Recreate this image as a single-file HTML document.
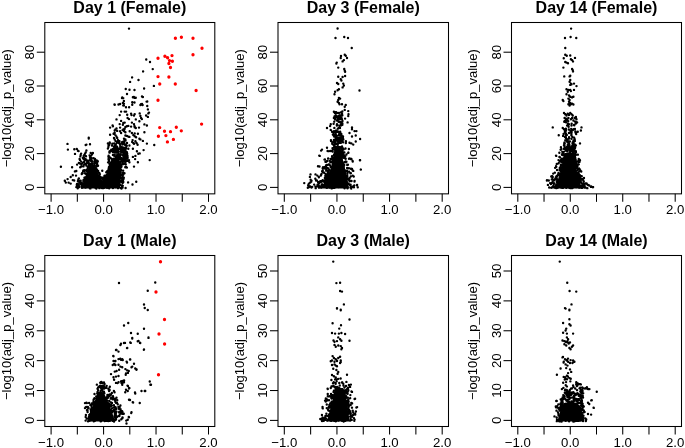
<!DOCTYPE html>
<html><head><meta charset="utf-8"><style>
html,body{margin:0;padding:0;background:#fff;}
svg{display:block;will-change:transform;font-family:"Liberation Sans",sans-serif;}
</style></head><body>
<svg width="685" height="448" viewBox="0 0 685 448">
<rect width="685" height="448" fill="#fff"/>
<polygon points="82.0,188.5 84.0,180.0 87.0,172.0 89.0,166.0 92.0,163.0 95.0,166.0 97.0,170.0 100.0,178.0 102.7,181.0 105.0,178.0 107.5,171.0 108.5,166.0 110.0,162.0 113.0,158.0 119.0,158.0 121.0,165.0 121.0,175.0 120.5,182.0 120.0,188.5" fill="#000"/>
<path d="M128.99 28.60h0.02M146.24 59.50h0.02M149.99 62.00h0.02M152.74 69.10h0.02M143.09 71.40h0.02M132.09 77.40h0.02M138.49 80.00h0.02M130.09 81.90h0.02M153.89 85.90h0.02M125.74 89.00h0.02M129.49 89.75h0.02M134.49 90.00h0.02M144.09 88.50h0.02M126.99 94.00h0.02M121.99 98.10h0.02M123.24 98.10h0.02M133.89 96.90h0.02M135.74 97.75h0.02M141.99 96.50h0.02M114.49 104.40h0.02M120.09 104.00h0.02M123.89 103.75h0.02M123.89 101.00h0.02M123.89 105.60h0.02M134.49 102.50h0.02M141.99 104.00h0.02M142.59 105.00h0.02M147.24 101.50h0.02M154.24 145.00h0.02M136.24 181.75h0.02M132.49 184.50h0.02M128.09 182.40h0.02M125.59 188.00h0.02M88.74 138.60h0.02M109.74 143.60h0.02M108.49 146.75h0.02M102.24 170.75h0.02M88.74 137.75h0.02M109.74 142.50h0.02M108.99 145.00h0.02M122.24 97.50h0.02M132.89 97.25h0.02M134.74 97.90h0.02M142.89 97.00h0.02M114.74 104.75h0.02M118.49 104.50h0.02M122.89 102.90h0.02M123.24 105.40h0.02M125.99 107.25h0.02M129.09 107.25h0.02M132.24 104.75h0.02M132.24 102.25h0.02M140.39 105.00h0.02M140.99 104.10h0.02M146.59 101.60h0.02M147.24 106.00h0.02M107.89 143.50h0.02M108.49 146.00h0.02M107.89 148.50h0.02M121.09 111.60h0.02M124.69 111.60h0.02M126.09 111.60h0.02M119.69 115.10h0.02M127.19 114.80h0.02M131.09 113.70h0.02M131.49 115.10h0.02M134.69 114.10h0.02M133.99 115.50h0.02M139.69 113.40h0.02M140.39 115.90h0.02M141.09 118.00h0.02M141.89 119.10h0.02M147.89 109.40h0.02M148.99 112.60h0.02M148.29 113.40h0.02M146.09 115.50h0.02M147.89 116.90h0.02M116.49 119.40h0.02M127.59 118.00h0.02M128.99 119.10h0.02M135.79 119.40h0.02M139.39 121.20h0.02M121.09 120.90h0.02M119.69 124.10h0.02M123.29 123.00h0.02M124.69 122.60h0.02M122.89 124.80h0.02M112.59 125.50h0.02M112.89 126.20h0.02M110.09 127.60h0.02M131.89 122.60h0.02M133.99 124.10h0.02M134.39 125.90h0.02M134.69 127.30h0.02M135.79 128.00h0.02M138.99 127.60h0.02M144.39 124.40h0.02M146.89 125.50h0.02M131.09 126.60h0.02M128.29 125.90h0.02M126.89 126.20h0.02M125.39 126.90h0.02M124.69 128.70h0.02M123.29 129.40h0.02M123.99 130.90h0.02M120.09 127.60h0.02M116.49 128.40h0.02M115.39 129.40h0.02M114.69 130.50h0.02M117.19 130.90h0.02M120.09 131.20h0.02M121.09 133.00h0.02M122.59 130.10h0.02M124.69 131.60h0.02M125.39 132.30h0.02M129.69 131.20h0.02M131.89 133.00h0.02M134.69 133.40h0.02M137.89 133.70h0.02M144.39 132.30h0.02M110.09 134.80h0.02M113.59 133.70h0.02M114.69 133.00h0.02M115.39 135.10h0.02M116.49 136.60h0.02M117.19 138.00h0.02M125.39 135.50h0.02M126.89 135.90h0.02M128.29 136.60h0.02M129.39 136.90h0.02M133.29 135.10h0.02M134.69 136.20h0.02M136.09 137.30h0.02M113.99 138.00h0.02M114.69 139.40h0.02M123.99 138.70h0.02M125.39 139.40h0.02M132.59 140.10h0.02M132.19 141.90h0.02M133.29 143.00h0.02M133.99 143.70h0.02M135.39 141.20h0.02M136.49 143.00h0.02M137.59 144.80h0.02M139.39 138.70h0.02M140.39 139.40h0.02M142.89 140.90h0.02M146.89 143.60h0.02M129.39 145.50h0.02M128.29 148.70h0.02M132.89 148.70h0.02M136.89 151.20h0.02M143.59 150.10h0.02M126.89 152.30h0.02M127.19 153.70h0.02M138.29 153.70h0.02M139.69 153.40h0.02M132.89 156.90h0.02M135.39 155.90h0.02M135.09 159.10h0.02M137.89 162.30h0.02M149.69 160.10h0.02M133.99 166.60h0.02M128.99 160.10h0.02M129.39 162.30h0.02M126.89 167.60h0.02M67.49 143.90h0.02M67.89 149.60h0.02M85.69 145.00h0.02M86.39 144.60h0.02M89.99 144.30h0.02M74.29 149.30h0.02M76.79 148.90h0.02M77.89 150.70h0.02M78.59 151.10h0.02M74.99 153.90h0.02M86.39 150.40h0.02M85.69 152.50h0.02M84.99 153.60h0.02M84.29 155.00h0.02M83.59 156.10h0.02M81.09 153.60h0.02M80.69 155.00h0.02M80.39 156.40h0.02M90.69 152.90h0.02M92.89 152.90h0.02M92.09 154.30h0.02M79.59 158.90h0.02M79.99 160.00h0.02M82.89 157.90h0.02M83.59 158.90h0.02M84.59 160.00h0.02M85.69 159.30h0.02M86.79 160.70h0.02M87.49 162.10h0.02M89.99 157.10h0.02M91.39 157.90h0.02M93.59 158.20h0.02M94.99 158.90h0.02M96.79 160.70h0.02M78.89 162.90h0.02M79.99 163.60h0.02M81.39 164.30h0.02M77.09 164.60h0.02M60.89 166.70h0.02M72.09 167.20h0.02M80.19 167.20h0.02M81.19 166.50h0.02M74.89 171.40h0.02M76.29 171.00h0.02M72.79 175.20h0.02M70.69 177.00h0.02M75.99 175.60h0.02M67.59 179.10h0.02M64.79 180.80h0.02M65.79 182.60h0.02M68.59 182.60h0.02M70.69 183.60h0.02M72.79 180.10h0.02M74.19 180.50h0.02M76.99 184.00h0.02M78.39 184.30h0.02M80.49 183.60h0.02M76.29 187.10h0.02M116.07 176.28h0.02M114.05 164.99h0.02M117.59 169.12h0.02M78.48 185.72h0.02M125.24 160.92h0.02M92.08 178.87h0.02M108.56 186.98h0.02M86.95 186.68h0.02M104.87 184.40h0.02M118.53 153.66h0.02M109.71 152.15h0.02M116.21 170.50h0.02M86.01 181.91h0.02M123.51 156.84h0.02M99.30 173.47h0.02M122.91 152.25h0.02M104.80 187.19h0.02M107.66 176.77h0.02M116.29 168.05h0.02M91.06 171.50h0.02M120.41 162.06h0.02M101.14 178.60h0.02M118.31 183.95h0.02M109.87 157.48h0.02M120.05 184.74h0.02M113.16 178.83h0.02M111.14 182.75h0.02M84.55 178.29h0.02M112.71 152.02h0.02M108.29 174.01h0.02M114.92 170.58h0.02M86.87 163.18h0.02M124.68 163.63h0.02M113.08 172.67h0.02M110.30 166.78h0.02M104.33 176.08h0.02M84.37 180.15h0.02M121.38 148.95h0.02M109.34 152.10h0.02M79.46 186.25h0.02M96.90 169.43h0.02M97.45 185.61h0.02M107.08 187.70h0.02M112.94 154.90h0.02M91.82 185.87h0.02M109.41 172.99h0.02M120.36 181.07h0.02M94.33 174.96h0.02M99.10 177.22h0.02M85.57 187.53h0.02M94.32 180.23h0.02M83.46 183.97h0.02M112.57 168.05h0.02M84.36 181.96h0.02M108.51 173.27h0.02M83.07 171.26h0.02M91.63 182.82h0.02M96.45 166.02h0.02M112.82 182.72h0.02M126.23 152.83h0.02M115.46 171.24h0.02M84.84 186.42h0.02M114.30 162.75h0.02M122.19 151.32h0.02M119.34 181.96h0.02M82.02 184.99h0.02M116.76 184.96h0.02M90.63 177.64h0.02M116.53 161.45h0.02M82.49 173.18h0.02M78.46 184.48h0.02M120.32 171.41h0.02M87.57 183.52h0.02M91.92 183.59h0.02M112.19 185.76h0.02M93.84 178.79h0.02M108.18 185.81h0.02M113.06 150.40h0.02M89.91 174.66h0.02M99.06 178.40h0.02M76.82 184.71h0.02M84.43 177.82h0.02M119.90 148.75h0.02M104.19 187.46h0.02M91.27 184.43h0.02M125.34 157.78h0.02M120.53 154.31h0.02M110.41 150.85h0.02M108.04 162.37h0.02M116.23 168.50h0.02M119.60 148.62h0.02M101.93 188.00h0.02M117.10 161.75h0.02M124.34 157.72h0.02M113.48 158.98h0.02M96.67 160.47h0.02M123.76 177.62h0.02M93.66 179.11h0.02M119.14 181.64h0.02M87.39 186.33h0.02M93.41 175.69h0.02M111.84 183.97h0.02M112.18 168.13h0.02M120.78 177.96h0.02M95.46 187.63h0.02M103.83 178.14h0.02M112.18 151.09h0.02M117.36 173.06h0.02M126.19 166.88h0.02M90.44 178.94h0.02M104.74 183.21h0.02M123.30 154.57h0.02M109.97 173.20h0.02M112.94 188.01h0.02M126.37 154.37h0.02M105.25 181.84h0.02M117.09 178.03h0.02M111.43 165.67h0.02M98.01 165.70h0.02M113.32 158.93h0.02M86.28 165.59h0.02M109.07 168.94h0.02M121.48 166.62h0.02M86.66 173.65h0.02M109.24 184.49h0.02M114.09 186.73h0.02M83.43 181.67h0.02M115.69 156.97h0.02M92.07 168.76h0.02M96.19 163.15h0.02M112.97 175.10h0.02M116.43 148.34h0.02M110.83 158.09h0.02M108.01 185.80h0.02M115.13 162.22h0.02M125.80 161.53h0.02M90.47 164.52h0.02M91.11 169.53h0.02M109.08 178.49h0.02M112.88 174.92h0.02M97.40 165.19h0.02M115.55 161.91h0.02M103.43 180.86h0.02M120.89 178.23h0.02M117.29 184.47h0.02M122.58 161.45h0.02M118.26 182.25h0.02M114.80 170.83h0.02M102.93 185.64h0.02M90.91 173.76h0.02M124.56 158.02h0.02M84.95 173.27h0.02M123.14 159.44h0.02M117.11 172.85h0.02M90.72 163.93h0.02M114.19 176.46h0.02M90.38 188.38h0.02M98.13 171.07h0.02M121.17 152.19h0.02M113.03 169.85h0.02M99.63 173.51h0.02M91.87 163.43h0.02M93.41 173.73h0.02M78.35 179.38h0.02M123.24 149.89h0.02M114.60 170.70h0.02M116.36 151.07h0.02M122.40 180.05h0.02M113.63 182.53h0.02M91.16 172.38h0.02M115.53 149.53h0.02M109.44 186.83h0.02M115.54 177.85h0.02M84.39 184.62h0.02M112.91 171.24h0.02M108.16 177.91h0.02M121.56 151.08h0.02M122.56 187.51h0.02M106.92 177.34h0.02M121.20 160.08h0.02M114.99 177.68h0.02M120.96 169.84h0.02M100.17 182.38h0.02M110.59 176.71h0.02M116.12 181.25h0.02M109.69 177.41h0.02M117.58 148.98h0.02M84.75 170.70h0.02M95.09 183.88h0.02M91.61 167.40h0.02M85.81 181.98h0.02M94.75 176.75h0.02M114.24 165.67h0.02M81.97 187.03h0.02M77.89 181.27h0.02M106.62 175.06h0.02M111.24 149.74h0.02M127.46 155.73h0.02M111.62 168.60h0.02M107.42 183.91h0.02M125.15 157.75h0.02M94.33 183.62h0.02M110.48 166.99h0.02M123.14 170.64h0.02M90.45 174.49h0.02M99.10 173.06h0.02M123.30 181.97h0.02M119.05 176.40h0.02M99.32 182.21h0.02M118.48 181.18h0.02M80.90 184.12h0.02M118.81 172.17h0.02M98.72 175.52h0.02M91.41 175.60h0.02M126.01 148.58h0.02M96.29 180.45h0.02M118.48 170.72h0.02M89.64 163.63h0.02M94.95 168.14h0.02M127.63 157.29h0.02M92.78 183.96h0.02M121.09 151.18h0.02M88.30 185.02h0.02M122.76 175.48h0.02M125.70 158.73h0.02M113.98 152.27h0.02M95.81 168.83h0.02M108.61 155.60h0.02M94.82 180.36h0.02M88.47 160.66h0.02M121.84 160.47h0.02M91.66 160.26h0.02M97.04 164.22h0.02M120.98 181.65h0.02M114.67 167.14h0.02M126.08 152.39h0.02M78.66 185.48h0.02M110.47 177.77h0.02M102.70 179.70h0.02M110.49 181.53h0.02M116.26 152.31h0.02M99.11 174.87h0.02M113.16 165.42h0.02M106.83 183.73h0.02M107.12 171.25h0.02M118.19 159.13h0.02M112.84 174.67h0.02M115.69 150.71h0.02M90.19 170.34h0.02M110.61 173.63h0.02M93.00 179.96h0.02M114.71 154.65h0.02M117.22 154.69h0.02M86.69 178.93h0.02M112.12 159.64h0.02M88.77 165.54h0.02M116.94 155.87h0.02M121.80 182.12h0.02M78.84 178.47h0.02M116.50 171.70h0.02M87.77 166.92h0.02M107.13 181.05h0.02M103.28 179.08h0.02M113.22 178.63h0.02M88.07 172.50h0.02M123.42 174.34h0.02M96.08 177.30h0.02M121.84 164.58h0.02M87.76 161.44h0.02M113.84 155.49h0.02M86.97 186.91h0.02M117.84 174.43h0.02M121.75 185.53h0.02M85.42 177.52h0.02M90.01 174.90h0.02M78.74 178.82h0.02M86.75 174.09h0.02M99.79 174.38h0.02M116.07 152.56h0.02M93.19 176.43h0.02M90.74 159.36h0.02M109.54 168.26h0.02M83.40 170.39h0.02M107.13 186.07h0.02M97.02 177.58h0.02M88.31 186.63h0.02M89.35 173.62h0.02M115.97 167.83h0.02M90.72 170.60h0.02M127.58 157.98h0.02M114.59 169.38h0.02M127.33 158.38h0.02M120.07 148.26h0.02M124.85 149.06h0.02M90.54 183.59h0.02M86.95 171.16h0.02M115.76 187.11h0.02M91.68 170.89h0.02M114.07 167.41h0.02M92.69 180.83h0.02M92.08 178.69h0.02M115.85 179.72h0.02M88.79 167.38h0.02M122.31 158.76h0.02M108.90 167.17h0.02M113.43 185.61h0.02M121.89 175.55h0.02M122.79 185.85h0.02M96.00 162.10h0.02M106.25 172.23h0.02M114.01 177.18h0.02M114.07 150.58h0.02M117.20 156.34h0.02M92.41 185.91h0.02M121.99 187.59h0.02M94.16 165.38h0.02M121.47 188.47h0.02M111.31 178.03h0.02M112.00 180.40h0.02M105.75 186.27h0.02M85.82 173.86h0.02M123.03 179.97h0.02M83.92 183.83h0.02M93.97 177.16h0.02M78.34 180.63h0.02M115.13 163.93h0.02M95.72 167.96h0.02M81.91 187.70h0.02M112.56 186.80h0.02M99.44 188.14h0.02M117.11 175.10h0.02M111.32 183.13h0.02M92.21 161.39h0.02M119.17 155.47h0.02M78.17 180.51h0.02M115.66 149.09h0.02M86.76 169.71h0.02M114.12 169.47h0.02M114.95 178.96h0.02M84.53 170.11h0.02M108.59 158.34h0.02M125.25 167.20h0.02M115.37 173.54h0.02M122.94 159.88h0.02M97.04 185.17h0.02M89.01 164.52h0.02M120.87 188.00h0.02M113.32 167.69h0.02M122.92 155.26h0.02M109.09 159.95h0.02M124.23 149.61h0.02M125.34 154.41h0.02M88.60 162.35h0.02M109.13 179.65h0.02M120.36 164.87h0.02M99.91 176.79h0.02M109.08 167.80h0.02M96.94 171.64h0.02M90.48 159.48h0.02M79.28 186.99h0.02M118.50 152.38h0.02M87.42 178.10h0.02M105.26 177.47h0.02M112.47 174.86h0.02M122.61 183.09h0.02M109.53 152.65h0.02M98.67 186.08h0.02M103.72 183.00h0.02M122.27 179.64h0.02M94.45 177.57h0.02M112.07 174.16h0.02M109.66 151.32h0.02M110.20 184.08h0.02M120.73 169.50h0.02M94.17 183.91h0.02M97.62 178.18h0.02M87.23 162.40h0.02M93.52 179.43h0.02M92.38 170.50h0.02M90.11 186.22h0.02M86.52 181.77h0.02M96.39 177.25h0.02M124.95 151.07h0.02M86.38 178.09h0.02M90.83 169.35h0.02M91.38 177.03h0.02M107.81 178.45h0.02M96.90 160.79h0.02M120.33 174.02h0.02M88.19 170.50h0.02M118.48 174.98h0.02M108.89 170.58h0.02M98.49 187.08h0.02M120.07 163.47h0.02M118.76 151.42h0.02M92.98 184.24h0.02M123.98 155.29h0.02M113.41 166.97h0.02M109.75 175.88h0.02M127.39 160.92h0.02M98.37 179.60h0.02M113.64 184.22h0.02M123.59 163.98h0.02M114.85 176.71h0.02M77.72 188.35h0.02M114.25 182.96h0.02M115.93 168.69h0.02M122.53 163.52h0.02M110.96 182.96h0.02M106.67 186.41h0.02M112.15 180.08h0.02M92.87 184.44h0.02M108.53 159.62h0.02M117.01 161.10h0.02M90.22 183.42h0.02M95.29 183.86h0.02M113.63 174.64h0.02M114.79 167.15h0.02M115.65 162.77h0.02M127.08 155.04h0.02M79.25 181.89h0.02M99.62 178.64h0.02M119.30 159.10h0.02M117.33 162.99h0.02M103.18 182.53h0.02M80.37 183.05h0.02M93.42 183.25h0.02M86.42 184.19h0.02M118.58 149.17h0.02M109.59 170.26h0.02M103.60 177.79h0.02M125.19 159.55h0.02M109.48 163.69h0.02M112.95 175.48h0.02M119.03 176.31h0.02M101.65 177.37h0.02M110.08 178.22h0.02M106.17 186.62h0.02M110.75 186.52h0.02M121.11 150.50h0.02M123.76 152.61h0.02M109.33 184.19h0.02M90.10 173.91h0.02M104.96 181.28h0.02M117.27 155.81h0.02M83.39 180.13h0.02M81.96 183.83h0.02M117.05 151.34h0.02M93.00 170.96h0.02M86.07 178.33h0.02M121.29 157.98h0.02M109.17 188.29h0.02M94.39 166.02h0.02M116.75 151.87h0.02M120.17 163.40h0.02M115.70 174.70h0.02M116.84 159.39h0.02M120.71 177.58h0.02M99.44 179.22h0.02M95.09 183.27h0.02M118.57 173.49h0.02M109.95 168.46h0.02M77.71 184.29h0.02M124.81 160.18h0.02M119.76 175.96h0.02M107.23 177.13h0.02M120.75 172.07h0.02M125.77 164.21h0.02M106.08 182.25h0.02M89.83 188.23h0.02M81.74 174.07h0.02M103.00 179.98h0.02M122.57 180.78h0.02M115.46 166.84h0.02M84.01 187.16h0.02M79.82 181.04h0.02M108.99 161.57h0.02M123.06 173.14h0.02M76.89 185.17h0.02M108.23 181.26h0.02M124.03 152.65h0.02M97.59 165.97h0.02M108.10 179.53h0.02M91.06 182.93h0.02M110.48 177.81h0.02M125.45 156.56h0.02M119.94 172.32h0.02M94.40 162.19h0.02M121.31 149.01h0.02M124.19 161.39h0.02M95.56 179.44h0.02M110.46 179.22h0.02M119.30 157.28h0.02M114.10 180.76h0.02M92.63 169.66h0.02M89.38 172.40h0.02M106.72 175.24h0.02M118.00 188.13h0.02M113.60 184.19h0.02M125.88 155.35h0.02M90.53 184.23h0.02M90.03 165.25h0.02M94.35 164.70h0.02M119.49 175.77h0.02M113.65 183.91h0.02M104.60 175.72h0.02M121.06 169.98h0.02M102.47 183.68h0.02M96.38 181.85h0.02M87.88 166.93h0.02M96.69 170.32h0.02M115.59 182.20h0.02M107.98 176.84h0.02M117.54 172.99h0.02M124.45 173.16h0.02M125.65 167.05h0.02M88.66 182.90h0.02M97.17 162.68h0.02M101.29 177.58h0.02M99.08 181.49h0.02M124.71 160.90h0.02M90.03 165.19h0.02M90.07 186.71h0.02M81.50 182.71h0.02M111.62 181.01h0.02M88.45 179.56h0.02M116.05 156.57h0.02M112.36 174.26h0.02M124.98 157.70h0.02M77.40 186.41h0.02M106.58 184.50h0.02M106.40 177.20h0.02M101.60 184.82h0.02M116.90 169.85h0.02M87.65 185.78h0.02M90.78 160.79h0.02M116.45 172.30h0.02M109.87 185.25h0.02M121.28 167.00h0.02M115.12 186.04h0.02M113.05 172.80h0.02M92.76 186.13h0.02M121.46 174.24h0.02M93.67 175.63h0.02M82.24 173.03h0.02M119.87 156.52h0.02M123.63 178.71h0.02M127.25 160.81h0.02M99.03 181.95h0.02M93.60 171.92h0.02M115.78 175.03h0.02M95.81 168.54h0.02M120.83 154.78h0.02M123.09 154.97h0.02M115.93 184.68h0.02M93.00 185.63h0.02M82.92 185.12h0.02M117.37 158.48h0.02M99.50 186.01h0.02M123.57 173.51h0.02M96.30 188.43h0.02M104.24 187.66h0.02M105.32 186.41h0.02M114.96 186.85h0.02M119.18 163.12h0.02M117.33 183.95h0.02M86.25 183.26h0.02M90.01 166.75h0.02M115.01 173.02h0.02M80.62 180.67h0.02M86.65 184.01h0.02M123.02 172.95h0.02M113.30 165.01h0.02M109.23 185.09h0.02M97.02 177.15h0.02M122.93 177.71h0.02M115.30 156.87h0.02M87.86 167.71h0.02M115.55 160.34h0.02M115.59 183.21h0.02M105.43 178.87h0.02M125.45 162.02h0.02M123.77 155.60h0.02M113.74 177.88h0.02M95.63 168.43h0.02M110.76 164.82h0.02M111.08 186.90h0.02M109.73 169.81h0.02M92.64 184.50h0.02M114.01 151.73h0.02M119.70 177.12h0.02M113.44 183.44h0.02M91.59 173.53h0.02M126.08 152.90h0.02M95.46 161.97h0.02M108.97 160.90h0.02M94.19 163.82h0.02M95.81 167.98h0.02M108.15 170.39h0.02M108.41 156.74h0.02M108.69 168.53h0.02M113.78 186.40h0.02M111.59 175.87h0.02M102.05 187.48h0.02M94.75 160.60h0.02M118.00 187.27h0.02M92.63 185.12h0.02M103.58 188.12h0.02M89.63 167.56h0.02M108.49 183.56h0.02M117.07 146.69h0.02M123.92 147.67h0.02M124.97 144.77h0.02M114.18 143.50h0.02M114.00 146.56h0.02M115.25 149.27h0.02M122.81 144.35h0.02M126.77 145.74h0.02M118.95 143.11h0.02M116.98 142.72h0.02M123.50 141.37h0.02M121.31 143.47h0.02M118.09 140.25h0.02M125.04 140.55h0.02M119.47 141.22h0.02M125.98 147.46h0.02M117.39 141.99h0.02M120.25 146.47h0.02M126.45 145.64h0.02M121.78 148.09h0.02M113.88 148.66h0.02M122.62 147.49h0.02M116.17 149.97h0.02M112.95 148.95h0.02M127.00 143.05h0.02M124.58 140.44h0.02M125.50 150.46h0.02M115.58 141.00h0.02M123.30 150.23h0.02M122.00 142.26h0.02M123.40 150.94h0.02M113.91 149.03h0.02M115.82 146.37h0.02M115.75 144.45h0.02M117.46 149.47h0.02M121.66 146.76h0.02M115.42 145.30h0.02M124.40 150.81h0.02M117.77 148.32h0.02M123.32 143.92h0.02M111.94 145.54h0.02M125.53 140.62h0.02M119.98 144.38h0.02M121.55 147.49h0.02M115.53 146.95h0.02M115.78 147.05h0.02M112.34 143.58h0.02M124.18 142.60h0.02M117.91 150.20h0.02M124.43 143.47h0.02M121.25 148.86h0.02M125.82 144.99h0.02M97.79 161.16h0.02M90.11 158.70h0.02M89.59 155.33h0.02M85.15 163.81h0.02M86.01 156.18h0.02M82.87 162.87h0.02M91.11 155.39h0.02M83.39 166.40h0.02M84.22 161.75h0.02M83.94 155.86h0.02M81.24 161.58h0.02M84.72 155.28h0.02M83.68 165.14h0.02M84.05 157.98h0.02M86.67 160.09h0.02" stroke="#000" stroke-width="2.4" stroke-linecap="round" fill="none"/>
<path d="M175.39 38.25h0.02M181.39 37.25h0.02M192.99 38.25h0.02M201.99 48.25h0.02M192.99 54.75h0.02M157.99 58.25h0.02M164.89 56.25h0.02M167.59 57.75h0.02M171.99 55.60h0.02M169.49 60.60h0.02M172.39 61.25h0.02M168.89 63.50h0.02M170.49 67.50h0.02M157.99 76.60h0.02M168.89 77.00h0.02M159.74 84.00h0.02M175.29 84.00h0.02M196.09 90.50h0.02M157.99 100.25h0.02M201.59 124.10h0.02M159.69 127.60h0.02M176.29 127.25h0.02M164.49 131.25h0.02M170.49 131.70h0.02M181.29 130.80h0.02M158.39 136.25h0.02M165.89 135.60h0.02M173.39 139.40h0.02M167.39 141.90h0.02" stroke="#f00" stroke-width="3.3" stroke-linecap="round" fill="none"/>
<rect x="44.8" y="22.5" width="170.0" height="171.35" fill="none" stroke="#000" stroke-width="1.05"/>
<line x1="51.10" y1="193.85" x2="51.10" y2="201.85" stroke="#000" stroke-width="1.05"/>
<line x1="77.33" y1="193.85" x2="77.33" y2="201.85" stroke="#000" stroke-width="1.05"/>
<line x1="103.57" y1="193.85" x2="103.57" y2="201.85" stroke="#000" stroke-width="1.05"/>
<line x1="129.80" y1="193.85" x2="129.80" y2="201.85" stroke="#000" stroke-width="1.05"/>
<line x1="156.03" y1="193.85" x2="156.03" y2="201.85" stroke="#000" stroke-width="1.05"/>
<line x1="182.27" y1="193.85" x2="182.27" y2="201.85" stroke="#000" stroke-width="1.05"/>
<line x1="208.50" y1="193.85" x2="208.50" y2="201.85" stroke="#000" stroke-width="1.05"/>
<text x="51.10" y="213.85" text-anchor="middle" font-size="13.2">−1.0</text>
<text x="103.57" y="213.85" text-anchor="middle" font-size="13.2">0.0</text>
<text x="156.03" y="213.85" text-anchor="middle" font-size="13.2">1.0</text>
<text x="208.50" y="213.85" text-anchor="middle" font-size="13.2">2.0</text>
<line x1="36.80" y1="187.40" x2="44.8" y2="187.40" stroke="#000" stroke-width="1.05"/>
<text transform="translate(34.20,187.40) rotate(-90)" text-anchor="middle" font-size="13.2">0</text>
<line x1="36.80" y1="153.60" x2="44.8" y2="153.60" stroke="#000" stroke-width="1.05"/>
<text transform="translate(34.20,153.60) rotate(-90)" text-anchor="middle" font-size="13.2">20</text>
<line x1="36.80" y1="119.80" x2="44.8" y2="119.80" stroke="#000" stroke-width="1.05"/>
<text transform="translate(34.20,119.80) rotate(-90)" text-anchor="middle" font-size="13.2">40</text>
<line x1="36.80" y1="86.00" x2="44.8" y2="86.00" stroke="#000" stroke-width="1.05"/>
<text transform="translate(34.20,86.00) rotate(-90)" text-anchor="middle" font-size="13.2">60</text>
<line x1="36.80" y1="52.20" x2="44.8" y2="52.20" stroke="#000" stroke-width="1.05"/>
<text transform="translate(34.20,52.20) rotate(-90)" text-anchor="middle" font-size="13.2">80</text>
<text transform="translate(10.50,108.17) rotate(-90)" text-anchor="middle" font-size="13">−log10(adj_p_value)</text>
<text x="129.80" y="13.0" text-anchor="middle" font-size="16.0" font-weight="bold">Day 1 (Female)</text>
<polygon points="320.0,188.5 324.0,183.0 328.0,176.0 330.5,169.0 332.5,160.0 334.0,152.0 335.0,146.0 340.0,146.0 341.5,152.0 343.0,160.0 345.0,169.0 346.5,176.0 348.0,183.0 349.0,188.5" fill="#000"/>
<path d="M337.59 28.50h0.02M335.49 38.00h0.02M344.24 37.00h0.02M347.99 38.00h0.02M351.74 48.00h0.02M344.74 54.75h0.02M345.74 55.75h0.02M340.99 56.00h0.02M340.74 58.00h0.02M346.99 58.00h0.02M343.89 60.10h0.02M342.59 61.40h0.02M336.74 62.60h0.02M336.39 63.50h0.02M338.24 67.60h0.02M344.24 68.90h0.02M344.74 70.75h0.02M345.09 71.75h0.02M338.24 76.75h0.02M342.59 77.00h0.02M345.09 76.00h0.02M340.74 79.25h0.02M341.39 80.50h0.02M336.99 83.00h0.02M338.24 84.00h0.02M343.24 83.60h0.02M343.89 85.50h0.02M342.59 87.40h0.02M338.89 89.25h0.02M337.59 90.25h0.02M335.09 91.75h0.02M359.49 90.50h0.02M334.49 94.25h0.02M338.89 98.00h0.02M340.09 98.60h0.02M338.24 99.90h0.02M337.59 101.75h0.02M338.89 103.00h0.02M339.49 104.25h0.02M341.99 104.25h0.02M345.74 104.90h0.02M344.74 106.75h0.02M344.74 109.90h0.02M333.89 111.75h0.02M335.09 112.40h0.02M336.99 113.00h0.02M338.89 113.00h0.02M340.74 112.40h0.02M341.99 113.60h0.02M348.24 111.10h0.02M348.49 114.25h0.02M348.24 116.10h0.02M335.74 115.50h0.02M336.99 116.75h0.02M338.24 116.10h0.02M340.09 115.50h0.02M341.39 117.40h0.02M333.89 118.00h0.02M335.09 119.25h0.02M336.99 120.50h0.02M338.89 119.25h0.02M341.99 119.25h0.02M345.09 118.60h0.02M347.59 122.40h0.02M330.74 124.25h0.02M330.09 126.10h0.02M326.99 128.00h0.02M351.99 127.40h0.02M351.99 129.25h0.02M354.49 131.10h0.02M356.39 131.10h0.02M349.49 133.00h0.02M330.74 129.90h0.02M331.99 131.75h0.02M321.99 149.60h0.02M319.74 155.90h0.02M324.49 159.60h0.02M319.49 166.50h0.02M326.99 147.75h0.02M327.59 150.90h0.02M360.09 139.00h0.02M355.74 141.50h0.02M351.99 136.50h0.02M355.74 135.50h0.02M349.49 142.75h0.02M351.39 143.40h0.02M353.24 144.60h0.02M348.89 149.00h0.02M348.24 152.75h0.02M349.49 158.40h0.02M351.39 159.00h0.02M352.59 160.90h0.02M360.09 160.25h0.02M360.74 169.60h0.02M351.99 169.00h0.02M353.24 170.90h0.02M354.49 181.50h0.02M356.99 185.25h0.02M304.24 183.10h0.02M310.49 174.40h0.02M309.89 176.90h0.02M317.99 166.25h0.02M319.24 155.60h0.02M324.89 159.40h0.02M321.09 150.60h0.02M315.49 174.40h0.02M317.39 175.60h0.02M321.09 175.00h0.02M311.49 187.50h0.02M348.39 152.75h0.02M348.99 158.75h0.02M350.89 159.00h0.02M352.74 161.50h0.02M359.89 160.25h0.02M350.89 168.75h0.02M352.49 170.25h0.02M360.89 169.60h0.02M352.74 175.60h0.02M353.74 176.50h0.02M354.59 181.00h0.02M357.09 185.00h0.02M357.74 187.25h0.02M339.09 117.04h0.02M343.13 139.64h0.02M337.89 131.57h0.02M335.24 117.87h0.02M336.02 132.47h0.02M335.22 141.10h0.02M333.92 134.87h0.02M336.84 125.62h0.02M336.41 130.76h0.02M337.23 117.46h0.02M337.51 120.43h0.02M334.15 136.53h0.02M340.13 131.61h0.02M342.26 123.23h0.02M336.97 124.11h0.02M337.24 131.74h0.02M338.61 121.71h0.02M334.60 112.07h0.02M334.89 113.04h0.02M334.57 132.23h0.02M340.64 122.25h0.02M339.84 125.73h0.02M338.22 138.15h0.02M336.26 137.97h0.02M340.25 132.19h0.02M342.92 138.15h0.02M341.80 114.69h0.02M340.40 135.01h0.02M341.49 135.56h0.02M334.46 116.54h0.02M341.31 133.88h0.02M342.36 124.84h0.02M342.33 115.32h0.02M343.04 138.42h0.02M336.53 113.09h0.02M338.75 132.37h0.02M336.67 112.78h0.02M335.92 136.56h0.02M333.94 140.06h0.02M335.62 117.34h0.02M334.17 141.41h0.02M342.45 120.89h0.02M333.99 131.25h0.02M342.31 111.38h0.02M339.64 137.56h0.02M337.81 128.65h0.02M341.43 118.39h0.02M335.86 131.47h0.02M338.79 127.60h0.02M336.50 140.05h0.02M336.02 132.05h0.02M342.38 123.42h0.02M334.25 121.62h0.02M336.87 124.87h0.02M339.97 131.98h0.02M340.21 122.29h0.02M339.95 128.04h0.02M334.33 127.92h0.02M336.33 131.95h0.02M340.71 118.46h0.02M337.56 125.10h0.02M336.11 112.26h0.02M333.51 141.78h0.02M340.76 124.60h0.02M339.99 119.34h0.02M340.45 140.48h0.02M341.11 125.42h0.02M343.32 139.59h0.02M333.60 123.77h0.02M337.74 119.50h0.02M339.46 115.45h0.02M340.84 137.59h0.02M333.64 132.46h0.02M335.78 130.79h0.02M328.33 151.15h0.02M326.25 165.18h0.02M314.15 184.60h0.02M322.64 172.27h0.02M324.19 168.38h0.02M332.86 134.46h0.02M307.82 187.72h0.02M312.21 186.85h0.02M326.20 170.66h0.02M327.10 161.17h0.02M316.81 180.53h0.02M323.07 167.21h0.02M308.15 185.32h0.02M326.60 165.01h0.02M325.83 161.89h0.02M331.04 141.00h0.02M311.50 180.73h0.02M308.81 183.78h0.02M332.21 143.85h0.02M322.74 170.82h0.02M310.24 182.56h0.02M327.12 167.91h0.02M311.19 181.67h0.02M318.86 177.25h0.02M333.50 135.29h0.02M328.15 158.46h0.02M310.63 179.65h0.02M310.17 186.36h0.02M327.88 164.84h0.02M330.96 140.14h0.02M321.35 174.20h0.02M315.30 178.63h0.02M309.20 187.05h0.02M325.42 161.87h0.02M320.68 175.64h0.02M318.12 182.26h0.02M330.28 150.98h0.02M324.96 166.83h0.02M309.58 186.57h0.02M324.19 172.82h0.02M327.33 161.03h0.02M326.10 166.10h0.02M322.65 168.19h0.02M325.83 167.00h0.02M316.07 180.50h0.02M325.83 168.73h0.02M332.90 142.19h0.02M322.13 171.15h0.02M332.21 142.08h0.02M354.26 185.36h0.02M342.12 139.77h0.02M345.89 141.28h0.02M350.37 173.23h0.02M345.49 148.46h0.02M352.68 186.81h0.02M348.88 168.22h0.02M347.93 164.64h0.02M349.63 178.08h0.02M350.85 173.14h0.02M343.07 142.24h0.02M353.94 187.29h0.02M343.00 136.41h0.02M351.49 181.07h0.02M353.74 186.53h0.02M346.44 154.43h0.02M347.22 164.92h0.02M345.83 143.07h0.02M346.41 161.70h0.02M342.22 139.26h0.02M351.72 186.64h0.02M350.72 176.39h0.02M349.38 179.19h0.02M349.13 171.67h0.02M347.10 167.96h0.02M337.19 140.29h0.02M320.03 186.97h0.02M333.06 187.89h0.02M345.82 176.67h0.02M332.88 167.18h0.02M327.99 181.88h0.02M325.33 179.65h0.02M338.47 185.01h0.02M332.50 148.21h0.02M336.87 185.92h0.02M334.20 144.52h0.02M327.98 177.49h0.02M337.80 152.25h0.02M350.47 187.51h0.02M337.17 152.53h0.02M337.91 162.06h0.02M344.23 183.14h0.02M333.03 160.03h0.02M344.14 179.86h0.02M339.00 142.73h0.02M341.45 156.53h0.02M333.79 186.72h0.02M337.28 158.57h0.02M345.65 158.81h0.02M340.57 158.33h0.02M342.13 153.65h0.02M344.69 177.64h0.02M343.36 180.79h0.02M345.17 175.51h0.02M329.77 175.07h0.02M341.29 174.23h0.02M346.23 177.03h0.02M341.29 175.15h0.02M338.61 187.04h0.02M338.05 178.47h0.02M351.23 188.45h0.02M340.05 167.25h0.02M335.25 170.98h0.02M338.94 178.69h0.02M331.91 184.79h0.02M331.13 183.93h0.02M329.09 173.65h0.02M327.26 178.81h0.02M328.43 176.40h0.02M336.32 153.14h0.02M343.86 168.14h0.02M335.05 170.11h0.02M347.26 171.78h0.02M331.66 188.39h0.02M328.95 164.47h0.02M347.02 170.78h0.02M340.17 147.95h0.02M323.12 181.54h0.02M345.58 179.36h0.02M344.95 182.84h0.02M341.09 137.57h0.02M344.33 152.36h0.02M340.85 161.40h0.02M334.59 161.92h0.02M350.57 184.58h0.02M340.46 141.90h0.02M330.70 180.69h0.02M332.92 176.50h0.02M334.15 173.42h0.02M333.72 173.87h0.02M344.23 176.84h0.02M344.07 170.81h0.02M344.14 165.33h0.02M339.20 171.73h0.02M346.97 182.17h0.02M318.25 184.88h0.02M340.49 176.00h0.02M335.90 171.44h0.02M338.22 167.02h0.02M341.33 179.11h0.02M330.90 162.34h0.02M341.03 152.28h0.02M332.56 170.91h0.02M336.79 173.62h0.02M333.58 183.70h0.02M333.62 177.62h0.02M334.85 184.18h0.02M341.49 172.12h0.02M346.63 176.05h0.02M339.68 139.42h0.02M315.41 186.71h0.02M341.36 154.49h0.02M324.99 186.37h0.02M317.51 185.07h0.02M343.47 154.19h0.02M342.82 163.81h0.02M338.23 165.15h0.02M329.93 185.67h0.02M343.05 155.95h0.02M334.42 149.23h0.02M341.31 136.12h0.02M343.80 187.00h0.02M339.80 154.88h0.02M331.75 181.30h0.02M321.18 187.62h0.02M343.53 185.61h0.02M324.68 180.42h0.02M331.14 180.54h0.02M328.86 174.83h0.02M320.89 182.03h0.02M347.49 188.21h0.02M329.44 187.58h0.02M340.00 147.36h0.02M340.18 166.71h0.02M327.78 168.64h0.02M335.76 180.99h0.02M339.21 134.22h0.02M342.51 180.07h0.02M336.21 144.06h0.02M337.73 173.73h0.02M335.38 150.09h0.02M333.20 174.34h0.02M346.34 179.98h0.02M343.98 173.07h0.02M342.57 157.64h0.02M331.85 161.49h0.02M330.52 175.40h0.02M326.18 187.20h0.02M340.28 147.56h0.02M332.65 157.81h0.02M343.76 166.08h0.02M330.67 158.89h0.02M350.73 186.81h0.02M347.28 175.11h0.02M330.35 162.31h0.02M318.89 185.88h0.02M337.74 139.79h0.02M342.28 150.61h0.02M342.06 163.93h0.02M339.32 134.12h0.02M336.47 156.18h0.02M329.36 170.31h0.02M331.78 184.94h0.02M334.23 146.88h0.02M326.73 181.71h0.02M338.46 171.96h0.02M341.60 149.48h0.02M325.00 185.51h0.02M338.89 180.88h0.02M338.49 139.56h0.02M344.64 157.97h0.02M346.80 177.32h0.02M330.91 179.16h0.02M333.71 160.31h0.02M341.30 175.61h0.02M335.26 142.38h0.02M339.51 158.04h0.02M319.14 183.26h0.02M342.01 146.56h0.02M330.70 175.79h0.02M341.35 185.10h0.02M334.72 176.79h0.02M340.86 170.50h0.02M339.77 161.47h0.02M335.10 186.21h0.02M347.35 176.33h0.02M337.75 185.93h0.02M334.79 173.97h0.02M345.29 171.30h0.02M349.57 181.29h0.02M344.56 188.29h0.02M338.57 160.88h0.02M339.62 163.76h0.02M317.34 186.24h0.02M325.02 186.65h0.02M335.05 179.02h0.02M341.23 178.41h0.02M338.44 175.86h0.02M343.66 154.84h0.02M328.25 183.49h0.02M343.68 152.55h0.02M341.13 138.25h0.02M343.40 149.56h0.02M334.52 166.00h0.02M322.61 180.30h0.02M338.84 135.36h0.02M336.08 140.56h0.02M331.36 158.68h0.02M334.96 172.31h0.02M323.39 180.64h0.02M334.53 145.90h0.02M320.28 181.25h0.02M338.69 151.80h0.02M342.27 175.60h0.02M325.88 175.26h0.02M342.27 176.88h0.02M330.52 187.25h0.02M336.54 182.90h0.02M345.09 172.95h0.02M344.05 179.59h0.02M347.67 187.29h0.02M344.55 184.68h0.02M325.85 177.17h0.02M335.12 140.22h0.02M347.41 173.56h0.02M333.83 180.93h0.02M335.91 176.17h0.02M348.38 183.74h0.02M341.36 179.57h0.02M326.09 175.75h0.02M348.71 179.70h0.02M336.92 150.69h0.02M342.12 141.38h0.02M341.90 150.64h0.02M330.64 172.19h0.02M335.32 183.56h0.02M337.13 172.40h0.02M338.14 171.51h0.02M329.19 181.07h0.02M344.23 155.75h0.02M334.92 182.54h0.02M337.14 137.51h0.02M340.78 159.72h0.02M335.65 158.98h0.02M332.04 156.23h0.02M338.12 178.19h0.02M330.96 162.28h0.02M335.76 171.41h0.02M334.27 180.65h0.02M335.90 183.85h0.02M332.06 150.71h0.02M332.58 157.76h0.02M336.52 184.36h0.02M332.06 171.20h0.02M345.75 183.75h0.02M341.46 155.37h0.02M329.84 183.27h0.02M334.17 146.14h0.02M344.96 186.57h0.02M338.10 157.72h0.02M338.12 156.77h0.02M343.16 155.24h0.02M323.77 185.41h0.02M344.62 180.40h0.02M340.73 147.45h0.02M345.84 170.84h0.02M343.67 157.75h0.02M337.07 150.38h0.02M344.40 169.88h0.02M337.54 152.36h0.02M333.00 149.36h0.02M343.39 171.77h0.02M329.35 181.94h0.02M340.04 180.72h0.02M344.13 156.42h0.02M336.09 143.45h0.02M334.29 146.51h0.02M341.55 140.48h0.02M340.29 183.30h0.02M347.70 179.04h0.02M325.52 184.53h0.02M336.21 168.29h0.02M340.72 158.49h0.02M337.02 164.21h0.02M343.74 174.38h0.02M349.58 184.80h0.02M340.45 137.61h0.02M321.06 181.13h0.02M319.93 182.21h0.02M334.86 177.52h0.02M342.49 182.53h0.02M319.16 186.69h0.02M337.65 144.69h0.02M330.53 171.44h0.02M340.11 169.80h0.02M340.74 142.88h0.02M345.74 183.07h0.02M342.14 185.07h0.02M337.81 146.58h0.02M341.32 148.07h0.02M325.74 176.52h0.02M329.32 169.75h0.02M327.40 176.78h0.02M334.41 145.35h0.02M329.81 160.86h0.02M336.63 135.79h0.02M339.10 167.12h0.02M343.57 168.83h0.02M345.06 184.19h0.02M317.64 184.70h0.02M339.05 138.71h0.02M335.68 134.22h0.02M337.97 151.77h0.02M341.74 146.82h0.02M339.22 161.39h0.02M335.05 176.85h0.02M335.54 177.93h0.02M327.13 174.20h0.02M331.37 179.13h0.02M333.69 145.02h0.02M346.79 184.25h0.02M340.47 147.96h0.02M334.97 155.93h0.02M337.27 169.80h0.02M335.05 157.57h0.02M330.75 182.12h0.02M337.42 144.02h0.02M340.72 173.05h0.02M335.67 138.51h0.02M339.01 154.43h0.02M324.86 178.01h0.02M338.73 186.18h0.02M333.43 144.76h0.02M325.90 182.01h0.02M341.57 167.28h0.02M332.66 151.63h0.02M325.41 177.92h0.02M339.85 170.94h0.02M328.95 178.97h0.02M325.34 176.96h0.02M319.01 187.63h0.02M325.23 177.66h0.02M338.75 163.19h0.02M325.37 175.56h0.02M331.08 184.47h0.02M341.13 166.97h0.02M337.27 168.29h0.02M336.03 160.89h0.02M322.03 184.55h0.02M326.74 183.58h0.02M340.07 140.31h0.02M344.21 175.07h0.02M336.14 183.77h0.02M341.39 137.60h0.02M335.63 134.03h0.02M325.87 174.19h0.02M339.52 147.72h0.02M337.88 143.64h0.02M326.90 187.68h0.02M342.14 140.97h0.02M329.08 173.17h0.02M342.25 152.59h0.02M332.99 181.15h0.02M343.64 173.41h0.02M331.98 161.55h0.02M338.33 182.16h0.02M347.07 176.72h0.02M328.33 168.41h0.02M334.45 187.86h0.02M347.78 178.36h0.02M324.95 182.41h0.02M339.91 172.76h0.02M341.39 166.92h0.02M337.05 155.04h0.02M337.62 186.46h0.02M344.35 162.32h0.02M338.34 163.79h0.02M336.37 166.90h0.02M339.39 159.68h0.02M334.07 177.61h0.02M345.22 156.39h0.02M328.50 179.19h0.02M328.46 183.56h0.02M340.92 180.13h0.02M333.99 154.81h0.02M344.21 165.02h0.02M327.94 171.25h0.02M338.78 177.32h0.02M337.03 174.09h0.02M336.04 135.52h0.02M346.09 184.81h0.02M332.29 174.10h0.02M339.73 141.65h0.02M333.34 164.19h0.02M337.73 140.99h0.02M322.06 184.49h0.02M334.03 163.15h0.02M328.14 171.16h0.02M329.94 165.19h0.02M338.07 142.26h0.02M337.23 147.94h0.02M341.85 182.23h0.02M345.69 161.42h0.02M338.86 172.42h0.02M326.50 177.70h0.02M345.58 161.86h0.02M339.66 156.36h0.02M336.90 138.74h0.02M333.53 161.62h0.02M325.73 180.43h0.02M326.17 182.85h0.02M334.09 175.96h0.02M334.58 175.54h0.02M329.16 186.28h0.02M327.84 172.23h0.02M330.39 180.39h0.02M339.49 151.04h0.02M336.23 135.10h0.02M331.45 171.15h0.02M333.69 175.03h0.02M321.35 185.49h0.02M346.25 162.36h0.02M333.46 174.46h0.02M330.79 167.03h0.02M342.38 166.38h0.02M342.85 148.13h0.02M337.40 149.79h0.02M343.65 172.59h0.02M333.27 159.23h0.02M343.05 181.59h0.02M319.43 181.79h0.02M332.47 187.75h0.02M338.30 166.06h0.02M335.51 161.10h0.02M333.31 187.07h0.02M342.51 165.84h0.02M315.68 188.15h0.02M339.77 186.24h0.02M344.03 175.19h0.02" stroke="#000" stroke-width="2.4" stroke-linecap="round" fill="none"/>
<rect x="278.0" y="22.5" width="170.5" height="171.35" fill="none" stroke="#000" stroke-width="1.05"/>
<line x1="284.31" y1="193.85" x2="284.31" y2="201.85" stroke="#000" stroke-width="1.05"/>
<line x1="310.63" y1="193.85" x2="310.63" y2="201.85" stroke="#000" stroke-width="1.05"/>
<line x1="336.94" y1="193.85" x2="336.94" y2="201.85" stroke="#000" stroke-width="1.05"/>
<line x1="363.25" y1="193.85" x2="363.25" y2="201.85" stroke="#000" stroke-width="1.05"/>
<line x1="389.56" y1="193.85" x2="389.56" y2="201.85" stroke="#000" stroke-width="1.05"/>
<line x1="415.87" y1="193.85" x2="415.87" y2="201.85" stroke="#000" stroke-width="1.05"/>
<line x1="442.19" y1="193.85" x2="442.19" y2="201.85" stroke="#000" stroke-width="1.05"/>
<text x="284.31" y="213.85" text-anchor="middle" font-size="13.2">−1.0</text>
<text x="336.94" y="213.85" text-anchor="middle" font-size="13.2">0.0</text>
<text x="389.56" y="213.85" text-anchor="middle" font-size="13.2">1.0</text>
<text x="442.19" y="213.85" text-anchor="middle" font-size="13.2">2.0</text>
<line x1="270.00" y1="187.40" x2="278.0" y2="187.40" stroke="#000" stroke-width="1.05"/>
<text transform="translate(267.40,187.40) rotate(-90)" text-anchor="middle" font-size="13.2">0</text>
<line x1="270.00" y1="153.60" x2="278.0" y2="153.60" stroke="#000" stroke-width="1.05"/>
<text transform="translate(267.40,153.60) rotate(-90)" text-anchor="middle" font-size="13.2">20</text>
<line x1="270.00" y1="119.80" x2="278.0" y2="119.80" stroke="#000" stroke-width="1.05"/>
<text transform="translate(267.40,119.80) rotate(-90)" text-anchor="middle" font-size="13.2">40</text>
<line x1="270.00" y1="86.00" x2="278.0" y2="86.00" stroke="#000" stroke-width="1.05"/>
<text transform="translate(267.40,86.00) rotate(-90)" text-anchor="middle" font-size="13.2">60</text>
<line x1="270.00" y1="52.20" x2="278.0" y2="52.20" stroke="#000" stroke-width="1.05"/>
<text transform="translate(267.40,52.20) rotate(-90)" text-anchor="middle" font-size="13.2">80</text>
<text transform="translate(243.70,108.17) rotate(-90)" text-anchor="middle" font-size="13">−log10(adj_p_value)</text>
<text x="363.25" y="13.0" text-anchor="middle" font-size="16.0" font-weight="bold">Day 3 (Female)</text>
<polygon points="554.0,188.5 557.0,182.0 559.5,175.0 561.5,167.0 563.0,160.0 564.5,153.0 574.0,153.0 575.0,160.0 576.0,167.0 577.5,175.0 579.5,182.0 582.0,188.5" fill="#000"/>
<path d="M571.09 28.60h0.02M564.99 38.00h0.02M570.59 37.00h0.02M576.24 38.00h0.02M565.24 48.00h0.02M565.24 54.75h0.02M566.74 55.75h0.02M570.24 55.50h0.02M563.74 58.25h0.02M574.99 57.90h0.02M570.89 59.25h0.02M572.09 60.10h0.02M572.99 61.40h0.02M565.24 62.00h0.02M566.49 62.60h0.02M567.99 63.25h0.02M563.39 67.60h0.02M572.09 68.90h0.02M572.74 70.10h0.02M572.99 71.40h0.02M564.24 76.40h0.02M569.59 76.40h0.02M570.24 75.75h0.02M570.24 79.90h0.02M569.59 81.75h0.02M570.89 83.60h0.02M570.24 84.90h0.02M571.49 84.25h0.02M573.99 83.60h0.02M576.49 86.10h0.02M566.49 89.25h0.02M568.39 89.90h0.02M570.24 89.90h0.02M573.99 89.90h0.02M567.74 91.75h0.02M570.89 91.10h0.02M566.49 94.25h0.02M568.99 95.50h0.02M570.24 96.75h0.02M572.09 97.40h0.02M573.39 96.75h0.02M562.74 99.90h0.02M563.39 101.10h0.02M568.39 98.60h0.02M569.59 99.90h0.02M568.99 101.75h0.02M570.24 103.00h0.02M568.39 104.25h0.02M570.89 104.25h0.02M572.09 103.60h0.02M573.39 104.50h0.02M569.59 105.50h0.02M563.99 113.00h0.02M565.24 114.25h0.02M566.49 115.50h0.02M567.74 113.60h0.02M568.99 114.90h0.02M570.24 113.00h0.02M571.49 114.25h0.02M572.74 115.50h0.02M564.59 118.00h0.02M565.89 119.90h0.02M568.39 118.00h0.02M570.89 119.25h0.02M572.09 118.00h0.02M573.39 120.50h0.02M575.24 121.75h0.02M576.49 119.25h0.02M577.09 122.40h0.02M575.89 123.60h0.02M573.99 124.90h0.02M571.49 125.50h0.02M568.99 124.25h0.02M567.09 125.50h0.02M552.74 127.40h0.02M562.74 128.00h0.02M563.99 129.25h0.02M565.89 128.60h0.02M581.49 127.40h0.02M580.89 130.50h0.02M575.89 133.00h0.02M577.74 131.75h0.02M556.24 155.90h0.02M556.24 166.75h0.02M560.59 149.60h0.02M558.74 135.25h0.02M563.09 135.90h0.02M579.99 143.40h0.02M578.74 159.00h0.02M579.99 160.25h0.02M546.89 180.50h0.02M551.24 176.50h0.02M552.49 177.75h0.02M579.99 170.25h0.02M581.24 171.50h0.02M579.99 175.25h0.02M583.74 181.50h0.02M585.59 183.40h0.02M587.49 184.60h0.02M591.24 186.50h0.02M593.09 187.10h0.02M555.99 155.60h0.02M555.99 166.25h0.02M546.99 180.25h0.02M552.24 176.25h0.02M579.24 159.40h0.02M580.49 170.60h0.02M581.74 176.25h0.02M586.74 183.75h0.02M587.99 185.00h0.02M590.99 186.90h0.02M592.99 187.25h0.02M564.99 136.94h0.02M565.28 140.23h0.02M571.20 129.07h0.02M571.33 135.25h0.02M563.57 134.02h0.02M571.36 133.67h0.02M574.86 141.00h0.02M568.08 123.71h0.02M564.72 143.55h0.02M572.30 136.72h0.02M568.95 133.04h0.02M565.99 134.03h0.02M564.95 137.12h0.02M571.50 138.79h0.02M566.32 119.13h0.02M567.49 139.38h0.02M569.87 141.42h0.02M568.81 129.55h0.02M575.24 121.68h0.02M565.79 136.02h0.02M571.51 130.72h0.02M570.52 130.98h0.02M572.02 146.22h0.02M574.13 137.73h0.02M569.34 148.22h0.02M569.03 137.27h0.02M574.71 139.24h0.02M568.26 141.26h0.02M571.09 147.11h0.02M571.40 134.14h0.02M576.14 133.94h0.02M568.37 147.88h0.02M575.73 121.85h0.02M563.97 145.17h0.02M574.91 129.07h0.02M566.43 139.27h0.02M575.68 123.25h0.02M569.04 138.53h0.02M565.97 130.11h0.02M564.92 132.31h0.02M566.09 118.74h0.02M568.24 121.11h0.02M564.59 121.12h0.02M568.63 126.81h0.02M572.82 130.09h0.02M566.27 122.39h0.02M567.00 141.27h0.02M565.71 131.82h0.02M573.88 144.21h0.02M569.23 144.65h0.02M571.66 123.71h0.02M564.24 121.78h0.02M573.66 129.25h0.02M574.30 148.89h0.02M575.40 131.95h0.02M565.95 138.07h0.02M572.47 147.34h0.02M572.51 148.63h0.02M571.60 132.14h0.02M574.29 125.32h0.02M573.50 140.73h0.02M574.69 118.05h0.02M565.53 148.29h0.02M564.91 131.34h0.02M571.11 132.39h0.02M574.86 148.48h0.02M567.60 120.57h0.02M575.34 131.42h0.02M566.35 120.70h0.02M566.78 134.92h0.02M575.47 132.47h0.02M575.86 118.27h0.02M573.22 141.66h0.02M575.93 117.05h0.02M555.11 167.87h0.02M556.76 163.91h0.02M550.90 183.98h0.02M549.17 187.48h0.02M550.09 183.11h0.02M552.83 179.80h0.02M551.79 179.38h0.02M553.19 179.80h0.02M553.22 173.59h0.02M552.59 181.87h0.02M561.26 149.20h0.02M552.18 179.51h0.02M548.75 180.56h0.02M551.86 182.89h0.02M559.71 161.42h0.02M557.01 169.97h0.02M560.77 149.85h0.02M558.63 163.24h0.02M552.73 176.93h0.02M559.42 157.06h0.02M559.85 157.32h0.02M559.35 152.81h0.02M554.83 172.67h0.02M558.52 160.09h0.02M547.91 184.90h0.02M555.87 177.15h0.02M560.93 147.31h0.02M586.43 183.34h0.02M583.30 178.87h0.02M578.79 164.36h0.02M578.51 161.73h0.02M579.23 168.90h0.02M578.43 162.03h0.02M578.70 159.78h0.02M579.58 161.69h0.02M575.83 145.38h0.02M589.22 185.57h0.02M579.02 168.40h0.02M579.62 169.19h0.02M583.95 178.07h0.02M582.17 179.60h0.02M583.60 181.19h0.02M577.82 154.64h0.02M573.00 152.43h0.02M564.36 182.28h0.02M569.46 163.90h0.02M560.82 186.29h0.02M571.31 165.36h0.02M567.83 154.30h0.02M575.99 174.97h0.02M561.81 172.19h0.02M571.52 182.04h0.02M575.46 182.56h0.02M579.04 185.25h0.02M580.02 187.02h0.02M565.95 174.19h0.02M566.47 148.43h0.02M572.04 167.78h0.02M568.82 143.17h0.02M562.98 185.97h0.02M579.07 183.27h0.02M577.45 173.17h0.02M566.09 157.79h0.02M560.35 178.03h0.02M566.99 177.85h0.02M578.95 181.00h0.02M564.44 145.40h0.02M555.98 188.00h0.02M565.14 164.62h0.02M558.35 173.39h0.02M561.88 165.13h0.02M572.61 181.56h0.02M560.42 174.77h0.02M570.08 188.12h0.02M570.89 158.93h0.02M563.58 164.83h0.02M579.71 177.33h0.02M566.70 159.59h0.02M573.31 150.60h0.02M568.48 158.08h0.02M572.85 182.27h0.02M574.36 186.52h0.02M578.09 174.88h0.02M553.16 186.34h0.02M567.55 182.67h0.02M572.50 143.42h0.02M558.23 180.81h0.02M572.26 149.94h0.02M559.30 174.90h0.02M575.52 166.30h0.02M573.34 145.50h0.02M568.23 144.34h0.02M582.48 186.99h0.02M567.03 174.32h0.02M578.39 186.04h0.02M558.94 182.38h0.02M569.57 152.58h0.02M574.69 175.59h0.02M561.44 165.83h0.02M581.94 187.89h0.02M565.79 185.26h0.02M574.90 156.30h0.02M571.99 151.01h0.02M571.39 179.10h0.02M569.48 145.13h0.02M566.28 187.80h0.02M579.05 187.34h0.02M584.31 186.62h0.02M575.24 157.87h0.02M571.99 182.52h0.02M573.07 161.93h0.02M575.79 161.65h0.02M553.70 187.06h0.02M562.15 168.25h0.02M569.12 168.33h0.02M564.45 145.90h0.02M569.36 168.21h0.02M560.57 166.52h0.02M554.44 180.32h0.02M584.26 187.56h0.02M553.52 187.31h0.02M572.60 179.50h0.02M580.17 180.21h0.02M575.37 165.63h0.02M570.43 177.48h0.02M578.45 172.98h0.02M562.71 160.60h0.02M559.97 175.10h0.02M551.28 187.83h0.02M573.24 147.66h0.02M573.35 174.45h0.02M564.57 155.19h0.02M566.59 147.97h0.02M562.61 182.43h0.02M575.49 163.03h0.02M577.19 164.15h0.02M578.91 174.18h0.02M568.95 174.27h0.02M569.09 157.91h0.02M564.50 142.41h0.02M567.66 157.54h0.02M583.27 186.74h0.02M575.85 151.20h0.02M571.32 180.22h0.02M552.39 187.24h0.02M570.14 158.06h0.02M581.78 186.87h0.02M567.71 178.50h0.02M577.98 176.00h0.02M571.27 165.32h0.02M565.90 157.78h0.02M557.10 182.34h0.02M572.38 185.15h0.02M574.19 177.46h0.02M571.77 165.24h0.02M573.54 142.43h0.02M554.82 187.52h0.02M577.33 170.59h0.02M569.20 145.51h0.02M552.12 187.13h0.02M575.94 152.55h0.02M568.16 169.31h0.02M560.11 179.34h0.02M578.07 179.57h0.02M560.89 167.72h0.02M577.17 186.83h0.02M587.32 188.13h0.02M580.82 185.61h0.02M564.62 155.69h0.02M559.80 170.42h0.02M565.22 185.11h0.02M577.48 166.05h0.02M569.29 156.98h0.02M577.10 185.87h0.02M576.12 186.95h0.02M564.30 157.68h0.02M572.81 187.30h0.02M569.93 151.15h0.02M575.58 173.15h0.02M574.53 146.59h0.02M567.86 172.28h0.02M564.53 175.83h0.02M568.22 178.22h0.02M574.14 161.20h0.02M566.99 167.64h0.02M580.37 176.56h0.02M584.50 185.16h0.02M557.47 183.78h0.02M574.95 162.78h0.02M563.25 163.04h0.02M571.74 146.64h0.02M583.27 185.97h0.02M562.49 181.64h0.02M565.31 185.29h0.02M568.53 181.97h0.02M558.00 175.01h0.02M562.79 187.90h0.02M569.65 160.34h0.02M574.87 172.72h0.02M571.77 176.21h0.02M578.34 175.14h0.02M571.59 147.55h0.02M569.11 162.40h0.02M568.33 179.18h0.02M573.48 185.40h0.02M572.38 145.74h0.02M575.20 181.73h0.02M563.19 154.05h0.02M557.80 187.54h0.02M566.50 158.14h0.02M571.61 173.53h0.02M566.24 170.05h0.02M562.85 170.12h0.02M568.47 156.21h0.02M576.35 181.96h0.02M577.46 176.93h0.02M566.93 149.16h0.02M569.57 181.49h0.02M569.02 172.52h0.02M561.71 158.58h0.02M563.35 164.79h0.02M568.90 183.67h0.02M563.47 177.80h0.02M563.67 162.45h0.02M564.88 179.20h0.02M568.32 157.30h0.02M555.89 185.35h0.02M581.28 186.73h0.02M573.69 152.53h0.02M574.62 171.38h0.02M556.46 176.38h0.02M584.98 187.62h0.02M563.48 158.85h0.02M568.59 157.20h0.02M566.70 163.10h0.02M572.04 157.42h0.02M567.48 162.31h0.02M558.58 172.92h0.02M576.53 168.18h0.02M574.61 155.40h0.02M574.39 164.71h0.02M569.39 187.85h0.02M567.67 177.59h0.02M570.65 147.77h0.02M557.53 184.15h0.02M577.74 169.06h0.02M572.33 167.14h0.02M563.58 158.43h0.02M554.02 183.55h0.02M565.56 154.20h0.02M579.25 171.34h0.02M568.15 173.49h0.02M563.23 152.14h0.02M577.16 167.27h0.02M561.64 182.87h0.02M564.79 163.98h0.02M575.38 173.17h0.02M557.33 176.57h0.02M567.29 151.59h0.02M563.83 164.24h0.02M562.30 182.60h0.02M583.41 183.65h0.02M575.69 154.97h0.02M569.60 150.24h0.02M569.28 181.20h0.02M571.67 168.23h0.02M577.60 165.11h0.02M572.20 170.08h0.02M563.81 148.86h0.02M566.40 160.73h0.02M572.55 181.13h0.02M577.42 175.56h0.02M560.91 160.17h0.02M564.21 168.92h0.02M567.22 180.97h0.02M575.12 147.40h0.02M573.29 164.50h0.02M566.41 168.03h0.02M568.92 148.68h0.02M567.81 144.63h0.02M571.17 187.93h0.02M551.79 187.51h0.02M575.68 176.73h0.02M570.89 177.04h0.02M578.28 175.36h0.02M572.49 169.35h0.02M567.70 167.72h0.02M573.11 156.78h0.02M573.63 182.75h0.02M556.73 188.11h0.02M571.93 187.47h0.02M563.21 182.60h0.02M581.07 182.52h0.02M566.38 158.38h0.02M569.03 143.69h0.02M570.75 165.82h0.02M562.00 161.71h0.02M572.75 169.73h0.02M561.36 175.61h0.02M567.99 182.26h0.02M561.83 167.91h0.02M564.20 170.24h0.02M563.74 151.85h0.02M579.77 187.61h0.02M571.53 175.61h0.02M566.71 185.05h0.02M559.59 170.01h0.02M569.82 183.89h0.02M582.44 185.03h0.02M571.99 172.39h0.02M571.29 157.94h0.02M566.86 146.68h0.02M579.54 176.78h0.02M573.34 153.51h0.02M563.39 181.34h0.02M580.63 181.61h0.02M565.24 184.63h0.02M566.57 170.00h0.02M572.01 166.60h0.02M571.97 159.37h0.02M564.53 147.61h0.02M572.49 184.83h0.02M566.70 176.51h0.02M569.90 165.95h0.02M561.55 186.45h0.02M563.13 160.36h0.02M564.57 160.50h0.02M561.31 171.05h0.02M576.24 166.73h0.02M570.62 149.86h0.02M566.60 159.83h0.02M565.97 174.39h0.02M564.60 156.45h0.02M564.05 173.11h0.02M564.63 166.43h0.02M569.87 173.67h0.02M567.78 164.02h0.02M562.11 154.17h0.02M573.13 164.73h0.02M575.28 177.21h0.02M568.46 180.21h0.02M556.71 176.07h0.02M572.92 162.63h0.02M564.39 157.52h0.02M578.81 177.93h0.02M556.88 181.15h0.02M579.08 187.44h0.02M567.42 176.16h0.02M561.91 154.63h0.02M574.52 157.91h0.02M562.22 159.52h0.02M562.28 151.85h0.02M576.77 184.11h0.02M564.28 162.78h0.02M558.74 184.40h0.02M567.35 142.11h0.02M567.20 172.65h0.02M572.20 167.28h0.02M567.63 149.65h0.02M573.73 158.63h0.02M562.30 175.52h0.02M562.56 154.99h0.02M560.94 171.05h0.02M560.16 184.55h0.02M566.24 162.25h0.02M560.07 174.01h0.02M563.01 180.64h0.02M561.02 164.74h0.02M563.26 158.94h0.02M584.50 186.56h0.02M585.43 187.52h0.02M574.13 166.68h0.02M572.03 168.89h0.02M575.63 159.39h0.02M575.10 182.76h0.02M577.28 176.26h0.02M577.05 161.42h0.02M562.50 175.60h0.02M563.58 181.17h0.02M553.42 185.47h0.02M570.00 152.45h0.02M564.22 162.49h0.02M572.64 142.49h0.02M561.82 173.93h0.02M574.26 150.86h0.02M557.19 179.30h0.02M572.59 147.96h0.02M566.48 157.33h0.02M578.95 179.03h0.02M561.50 162.17h0.02M577.80 177.06h0.02M565.59 150.45h0.02M555.25 178.77h0.02M561.96 180.39h0.02M584.35 187.23h0.02M575.29 171.15h0.02M564.21 143.23h0.02M567.54 185.84h0.02M565.14 182.14h0.02M571.76 159.88h0.02M561.12 159.86h0.02M568.65 157.02h0.02M571.09 162.81h0.02M573.37 155.83h0.02M576.15 163.49h0.02M567.26 175.03h0.02M555.80 187.68h0.02M572.56 187.98h0.02M559.98 169.37h0.02M570.44 156.87h0.02M573.97 153.67h0.02M562.47 173.71h0.02M562.67 186.29h0.02M561.26 187.61h0.02M580.97 179.04h0.02M565.14 183.87h0.02M563.93 154.57h0.02M575.24 176.41h0.02M565.76 159.00h0.02M559.15 180.72h0.02M575.23 144.82h0.02M562.96 174.13h0.02M573.48 181.28h0.02M568.12 146.74h0.02M563.47 164.70h0.02M570.95 167.82h0.02M568.75 146.39h0.02M575.02 153.69h0.02M554.52 183.50h0.02M582.13 183.54h0.02M584.70 186.69h0.02M570.37 162.94h0.02M575.14 159.88h0.02M559.75 167.92h0.02M565.62 167.02h0.02M570.83 153.42h0.02" stroke="#000" stroke-width="2.4" stroke-linecap="round" fill="none"/>
<rect x="511.5" y="22.5" width="170.0" height="171.35" fill="none" stroke="#000" stroke-width="1.05"/>
<line x1="517.80" y1="193.85" x2="517.80" y2="201.85" stroke="#000" stroke-width="1.05"/>
<line x1="544.03" y1="193.85" x2="544.03" y2="201.85" stroke="#000" stroke-width="1.05"/>
<line x1="570.27" y1="193.85" x2="570.27" y2="201.85" stroke="#000" stroke-width="1.05"/>
<line x1="596.50" y1="193.85" x2="596.50" y2="201.85" stroke="#000" stroke-width="1.05"/>
<line x1="622.73" y1="193.85" x2="622.73" y2="201.85" stroke="#000" stroke-width="1.05"/>
<line x1="648.97" y1="193.85" x2="648.97" y2="201.85" stroke="#000" stroke-width="1.05"/>
<line x1="675.20" y1="193.85" x2="675.20" y2="201.85" stroke="#000" stroke-width="1.05"/>
<text x="517.80" y="213.85" text-anchor="middle" font-size="13.2">−1.0</text>
<text x="570.27" y="213.85" text-anchor="middle" font-size="13.2">0.0</text>
<text x="622.73" y="213.85" text-anchor="middle" font-size="13.2">1.0</text>
<text x="675.20" y="213.85" text-anchor="middle" font-size="13.2">2.0</text>
<line x1="503.50" y1="187.40" x2="511.5" y2="187.40" stroke="#000" stroke-width="1.05"/>
<text transform="translate(500.90,187.40) rotate(-90)" text-anchor="middle" font-size="13.2">0</text>
<line x1="503.50" y1="153.60" x2="511.5" y2="153.60" stroke="#000" stroke-width="1.05"/>
<text transform="translate(500.90,153.60) rotate(-90)" text-anchor="middle" font-size="13.2">20</text>
<line x1="503.50" y1="119.80" x2="511.5" y2="119.80" stroke="#000" stroke-width="1.05"/>
<text transform="translate(500.90,119.80) rotate(-90)" text-anchor="middle" font-size="13.2">40</text>
<line x1="503.50" y1="86.00" x2="511.5" y2="86.00" stroke="#000" stroke-width="1.05"/>
<text transform="translate(500.90,86.00) rotate(-90)" text-anchor="middle" font-size="13.2">60</text>
<line x1="503.50" y1="52.20" x2="511.5" y2="52.20" stroke="#000" stroke-width="1.05"/>
<text transform="translate(500.90,52.20) rotate(-90)" text-anchor="middle" font-size="13.2">80</text>
<text transform="translate(477.20,108.17) rotate(-90)" text-anchor="middle" font-size="13">−log10(adj_p_value)</text>
<text x="596.50" y="13.0" text-anchor="middle" font-size="16.0" font-weight="bold">Day 14 (Female)</text>
<polygon points="89.0,421.5 91.0,412.0 94.0,403.0 97.0,395.0 100.0,391.0 104.0,393.0 107.0,400.0 110.0,408.0 113.0,415.0 115.0,421.5" fill="#000"/>
<path d="M118.99 283.00h0.02M155.24 282.50h0.02M147.74 290.75h0.02M143.99 304.50h0.02M144.74 308.00h0.02M147.74 310.00h0.02M128.24 323.00h0.02M123.99 325.50h0.02M143.99 328.75h0.02M130.99 333.00h0.02M137.74 333.75h0.02M148.49 337.50h0.02M132.24 338.00h0.02M149.74 381.50h0.02M150.99 384.75h0.02M145.24 391.00h0.02M141.49 391.00h0.02M135.24 393.50h0.02M132.74 402.25h0.02M139.74 403.00h0.02M128.99 399.75h0.02M131.49 412.25h0.02M128.99 417.25h0.02M127.74 419.75h0.02M126.49 423.50h0.02M128.99 388.50h0.02M127.74 391.00h0.02M125.24 392.25h0.02M94.49 394.00h0.02M86.39 402.75h0.02M85.74 407.10h0.02M86.99 410.25h0.02M87.59 412.10h0.02M101.99 382.75h0.02M84.99 403.10h0.02M86.89 403.10h0.02M84.99 408.10h0.02M86.24 406.90h0.02M85.59 420.60h0.02M101.89 382.50h0.02M126.24 420.60h0.02M128.74 416.90h0.02M131.24 413.10h0.02M129.99 400.00h0.02M133.09 402.50h0.02M127.49 385.60h0.02M129.39 388.10h0.02M134.99 392.50h0.02M121.24 381.25h0.02M123.09 382.50h0.02M117.49 383.10h0.02M123.74 413.75h0.02M122.49 417.50h0.02M132.24 338.50h0.02M148.49 337.90h0.02M124.99 342.90h0.02M130.74 342.90h0.02M138.49 341.00h0.02M139.99 342.90h0.02M120.39 345.00h0.02M126.99 348.10h0.02M143.89 349.75h0.02M115.99 350.00h0.02M118.49 351.60h0.02M113.24 356.00h0.02M113.49 361.00h0.02M115.39 361.00h0.02M118.49 359.10h0.02M120.99 359.75h0.02M122.24 359.10h0.02M126.59 361.60h0.02M129.99 359.50h0.02M114.09 364.10h0.02M115.39 365.00h0.02M118.49 364.75h0.02M120.39 366.60h0.02M122.24 367.25h0.02M132.24 366.60h0.02M136.59 369.50h0.02M125.39 369.10h0.02M127.24 370.40h0.02M128.74 371.00h0.02M127.89 372.90h0.02M114.74 371.60h0.02M116.59 371.00h0.02M119.09 369.75h0.02M125.99 373.50h0.02M125.74 374.75h0.02M110.99 374.10h0.02M113.49 377.25h0.02M115.99 376.60h0.02M118.49 376.00h0.02M114.09 379.75h0.02M102.24 382.90h0.02M115.99 382.90h0.02M118.49 382.25h0.02M120.99 381.60h0.02M122.89 381.00h0.02M124.09 380.40h0.02M122.24 384.75h0.02M149.74 381.60h0.02M150.39 384.75h0.02M127.89 386.00h0.02M129.09 387.90h0.02M144.74 391.00h0.02M125.99 389.75h0.02M120.99 343.75h0.02M123.99 343.00h0.02M130.24 342.50h0.02M137.74 341.25h0.02M140.24 343.00h0.02M143.99 349.50h0.02M116.49 350.00h0.02M127.24 348.00h0.02M113.49 356.25h0.02M115.24 361.25h0.02M120.24 358.75h0.02M122.74 360.00h0.02M126.99 362.50h0.02M130.24 359.50h0.02M133.99 363.75h0.02M112.74 365.00h0.02M115.24 365.00h0.02M135.24 368.50h0.02M136.49 369.75h0.02M131.49 367.25h0.02M123.99 382.25h0.02M121.49 383.00h0.02M119.09 412.09h0.02M108.50 388.77h0.02M108.72 389.81h0.02M119.39 411.67h0.02M116.01 415.36h0.02M116.98 402.85h0.02M109.26 395.99h0.02M122.61 417.76h0.02M115.09 411.15h0.02M109.30 389.55h0.02M121.06 410.84h0.02M115.82 413.40h0.02M115.54 407.19h0.02M115.86 408.10h0.02M116.14 408.94h0.02M111.97 402.95h0.02M118.37 416.14h0.02M116.89 416.93h0.02M111.25 397.80h0.02M112.99 396.26h0.02M119.20 412.40h0.02M110.68 394.95h0.02M114.93 400.19h0.02M116.46 397.65h0.02M110.99 394.59h0.02M120.41 405.54h0.02M106.35 387.86h0.02M122.05 413.82h0.02M119.76 414.59h0.02M109.31 394.74h0.02M120.67 412.89h0.02M116.16 402.92h0.02M117.72 404.26h0.02M119.25 420.76h0.02M109.85 386.80h0.02M110.82 398.66h0.02M111.87 393.03h0.02M113.22 397.49h0.02M114.13 409.50h0.02M118.71 408.76h0.02M121.28 412.45h0.02M109.61 389.91h0.02M115.42 398.81h0.02M122.40 411.75h0.02M108.47 396.38h0.02M118.42 406.98h0.02M110.28 394.38h0.02M115.27 401.84h0.02M120.58 409.16h0.02M119.58 407.41h0.02M116.46 411.82h0.02M113.95 405.30h0.02M105.85 387.70h0.02M109.10 391.07h0.02M111.10 397.96h0.02M121.30 419.20h0.02M109.04 389.48h0.02M115.01 398.99h0.02M113.88 390.91h0.02M113.09 399.10h0.02M117.23 400.30h0.02M112.68 399.34h0.02M121.43 412.51h0.02M122.07 411.32h0.02M114.54 392.32h0.02M118.61 408.47h0.02M122.24 418.24h0.02M119.36 415.94h0.02M121.21 411.50h0.02M114.19 407.15h0.02M100.95 387.63h0.02M101.97 386.75h0.02M106.67 385.87h0.02M96.84 384.63h0.02M104.85 387.89h0.02M100.23 385.75h0.02M104.55 384.07h0.02M100.23 382.69h0.02M102.88 385.60h0.02M102.62 387.95h0.02M103.96 382.48h0.02M101.33 381.88h0.02M104.26 386.42h0.02M102.79 385.90h0.02M91.79 403.34h0.02M85.89 414.98h0.02M87.30 409.73h0.02M85.68 417.07h0.02M86.72 418.47h0.02M89.08 402.88h0.02M87.49 410.40h0.02M88.44 407.95h0.02M87.87 406.91h0.02M90.38 405.00h0.02M90.34 415.64h0.02M93.91 420.20h0.02M104.36 393.31h0.02M105.64 408.96h0.02M90.52 420.33h0.02M110.46 410.42h0.02M95.60 402.16h0.02M97.30 400.54h0.02M113.32 411.40h0.02M103.97 408.25h0.02M93.71 417.45h0.02M104.47 415.16h0.02M95.00 416.97h0.02M111.46 405.69h0.02M100.84 390.74h0.02M98.82 393.18h0.02M98.14 387.55h0.02M100.69 387.84h0.02M107.31 396.20h0.02M106.38 397.42h0.02M98.95 417.19h0.02M100.99 418.32h0.02M107.43 412.30h0.02M109.12 405.47h0.02M96.75 409.86h0.02M111.23 415.82h0.02M100.76 392.74h0.02M94.81 418.50h0.02M108.93 411.93h0.02M101.44 395.96h0.02M93.97 412.73h0.02M102.26 385.99h0.02M107.97 411.60h0.02M110.82 402.37h0.02M107.61 407.13h0.02M93.93 415.67h0.02M107.56 413.63h0.02M113.01 420.90h0.02M89.70 419.48h0.02M103.93 387.31h0.02M102.51 387.51h0.02M99.61 413.25h0.02M112.08 408.12h0.02M105.09 416.25h0.02M106.96 407.20h0.02M97.84 393.57h0.02M107.40 398.06h0.02M96.29 412.11h0.02M114.60 415.92h0.02M91.06 412.81h0.02M103.40 387.44h0.02M111.33 404.85h0.02M101.73 387.47h0.02M103.90 402.53h0.02M111.87 418.15h0.02M91.39 418.16h0.02M109.68 414.61h0.02M109.27 418.94h0.02M106.99 412.85h0.02M106.74 403.16h0.02M103.19 392.07h0.02M111.18 419.82h0.02M109.06 405.05h0.02M108.90 411.28h0.02M100.96 388.09h0.02M98.77 396.70h0.02M97.81 419.71h0.02M105.68 408.02h0.02M91.60 406.03h0.02M97.08 415.01h0.02M114.49 416.82h0.02M115.18 420.04h0.02M113.88 419.30h0.02M101.08 421.13h0.02M95.47 409.10h0.02M88.01 421.31h0.02M99.30 403.06h0.02M115.89 418.49h0.02M91.68 406.39h0.02M106.65 413.19h0.02M112.06 410.58h0.02M109.91 406.83h0.02M110.14 409.38h0.02M92.09 404.53h0.02M88.89 416.94h0.02M97.12 397.00h0.02M108.22 397.59h0.02M100.21 416.57h0.02M94.14 417.96h0.02M101.34 398.58h0.02M105.42 416.25h0.02M95.47 408.80h0.02M107.02 403.87h0.02M108.44 408.82h0.02M98.53 416.49h0.02M95.74 418.71h0.02M107.48 408.18h0.02M107.61 397.27h0.02M105.46 408.58h0.02M102.01 395.30h0.02M104.71 403.85h0.02M99.60 408.54h0.02M101.91 396.79h0.02M102.21 400.93h0.02M104.65 414.91h0.02M99.02 393.38h0.02M90.53 417.75h0.02M104.99 408.83h0.02M96.71 398.68h0.02M93.22 404.34h0.02M114.82 413.16h0.02M97.69 401.26h0.02M96.04 407.66h0.02M92.29 414.40h0.02M98.82 398.61h0.02M101.69 389.69h0.02M98.33 397.73h0.02M106.92 418.15h0.02M101.89 390.57h0.02M108.11 415.20h0.02M101.98 394.97h0.02M106.70 401.98h0.02M104.12 403.81h0.02M107.44 394.93h0.02M106.26 417.11h0.02M103.57 404.68h0.02M102.41 419.14h0.02M97.93 395.64h0.02M108.21 421.08h0.02M94.36 412.34h0.02M96.21 396.33h0.02M103.90 391.59h0.02M95.68 416.20h0.02M102.61 408.19h0.02M97.20 406.36h0.02M110.51 411.59h0.02M94.58 418.04h0.02M99.38 397.17h0.02M90.70 419.71h0.02M103.75 405.10h0.02M101.73 385.84h0.02M111.72 416.37h0.02M106.26 408.81h0.02M106.81 413.88h0.02M103.50 387.54h0.02M99.98 395.70h0.02M100.36 417.42h0.02M115.71 417.59h0.02M104.79 404.84h0.02M107.03 400.77h0.02M111.58 417.29h0.02M101.53 404.97h0.02M89.24 415.06h0.02M102.15 390.39h0.02M101.61 406.96h0.02M93.68 416.65h0.02M100.01 397.14h0.02M96.70 406.42h0.02M102.22 408.97h0.02M110.39 415.54h0.02M98.13 403.54h0.02M111.79 412.17h0.02M98.95 407.55h0.02M95.12 407.89h0.02M103.74 407.72h0.02M107.51 397.67h0.02M106.76 416.90h0.02M91.83 416.69h0.02M107.55 419.57h0.02M101.83 394.71h0.02M102.54 396.96h0.02M98.43 412.48h0.02M103.27 391.98h0.02M97.24 414.63h0.02M105.42 416.31h0.02M96.68 410.45h0.02M98.54 401.62h0.02M99.07 405.97h0.02M107.74 412.28h0.02M105.40 409.85h0.02M99.29 417.88h0.02M91.50 414.12h0.02M108.55 412.73h0.02M97.72 402.31h0.02M93.54 401.18h0.02M102.16 397.78h0.02M108.50 410.71h0.02M98.78 417.96h0.02M95.99 405.41h0.02M112.12 411.97h0.02M107.35 411.13h0.02M102.54 417.98h0.02M103.39 403.75h0.02M108.21 406.95h0.02M102.86 404.71h0.02M104.15 415.51h0.02M95.23 408.76h0.02M110.49 419.66h0.02M103.81 396.37h0.02M111.94 416.24h0.02M90.98 409.85h0.02M97.53 388.73h0.02M93.83 399.31h0.02M90.65 416.82h0.02M111.74 405.76h0.02M92.89 410.75h0.02M104.31 412.66h0.02M111.33 413.32h0.02M104.98 400.38h0.02M92.28 407.85h0.02M111.66 410.78h0.02M100.35 393.72h0.02M92.47 414.11h0.02M90.66 415.19h0.02M98.56 407.85h0.02M95.52 411.90h0.02M101.63 413.41h0.02M104.96 417.28h0.02M99.99 392.60h0.02M107.09 406.75h0.02M98.90 386.69h0.02M91.65 419.69h0.02M112.10 417.83h0.02M94.73 409.71h0.02M94.49 398.17h0.02M106.23 401.82h0.02M94.78 404.11h0.02M98.14 390.29h0.02M94.98 403.51h0.02M102.78 416.32h0.02M96.15 406.12h0.02M91.45 416.93h0.02M108.31 410.86h0.02M101.81 405.76h0.02M108.32 403.25h0.02M95.50 416.97h0.02M102.60 398.89h0.02M104.68 420.95h0.02M109.23 400.90h0.02M103.03 398.29h0.02M100.32 402.06h0.02M103.33 405.52h0.02M91.00 411.53h0.02M105.84 398.03h0.02M101.55 389.65h0.02M101.03 410.17h0.02M100.10 418.98h0.02M104.43 407.79h0.02M97.54 391.94h0.02M96.20 412.16h0.02M106.86 398.49h0.02M92.18 419.21h0.02M109.01 403.61h0.02M99.51 393.20h0.02M92.65 413.20h0.02M91.44 414.59h0.02M90.46 414.04h0.02M93.56 399.96h0.02M88.88 420.92h0.02M99.08 418.24h0.02M111.15 419.90h0.02M106.35 420.87h0.02M91.68 407.82h0.02M102.91 403.39h0.02M111.96 417.85h0.02M90.61 409.40h0.02M97.23 393.57h0.02M100.30 393.96h0.02M101.29 397.55h0.02M109.39 407.65h0.02M99.72 418.14h0.02M109.81 420.82h0.02M108.63 417.13h0.02M93.79 421.29h0.02M97.54 414.84h0.02M95.98 407.09h0.02M98.20 416.61h0.02M115.98 419.54h0.02M92.91 414.94h0.02M102.89 407.42h0.02M109.53 404.72h0.02M102.17 387.97h0.02M106.35 419.48h0.02M100.63 421.19h0.02M93.45 402.25h0.02M94.84 420.76h0.02M92.22 416.83h0.02M89.56 420.34h0.02M109.88 413.72h0.02M97.20 407.10h0.02M106.60 414.48h0.02M94.62 417.85h0.02M111.26 404.75h0.02M105.16 416.06h0.02M95.89 401.68h0.02M101.99 403.10h0.02M102.88 388.15h0.02M97.20 419.21h0.02M99.61 403.92h0.02M103.18 398.65h0.02M115.34 416.94h0.02M97.14 402.93h0.02M94.14 405.10h0.02M110.10 405.66h0.02M107.25 405.14h0.02M97.90 396.89h0.02M104.26 399.69h0.02M94.89 405.65h0.02M99.45 411.72h0.02M88.60 418.78h0.02M114.02 421.47h0.02M97.79 398.16h0.02M105.75 416.89h0.02M104.52 413.75h0.02M102.96 388.47h0.02M106.65 404.13h0.02M102.49 388.56h0.02M92.14 416.61h0.02M114.77 415.01h0.02M105.97 413.49h0.02M94.88 406.40h0.02M100.27 406.58h0.02M99.89 419.39h0.02M99.47 397.45h0.02M104.02 413.19h0.02M102.29 420.09h0.02M110.93 405.86h0.02M104.21 388.47h0.02M88.07 421.24h0.02M100.46 394.45h0.02M97.94 417.74h0.02M100.71 411.74h0.02M99.42 408.53h0.02" stroke="#000" stroke-width="2.4" stroke-linecap="round" fill="none"/>
<path d="M160.49 261.75h0.02M155.99 292.00h0.02M164.49 319.50h0.02M158.99 334.00h0.02M164.59 344.00h0.02M158.49 374.75h0.02" stroke="#f00" stroke-width="3.3" stroke-linecap="round" fill="none"/>
<rect x="44.8" y="255.5" width="170.0" height="171.0" fill="none" stroke="#000" stroke-width="1.05"/>
<line x1="51.10" y1="426.5" x2="51.10" y2="434.50" stroke="#000" stroke-width="1.05"/>
<line x1="77.33" y1="426.5" x2="77.33" y2="434.50" stroke="#000" stroke-width="1.05"/>
<line x1="103.57" y1="426.5" x2="103.57" y2="434.50" stroke="#000" stroke-width="1.05"/>
<line x1="129.80" y1="426.5" x2="129.80" y2="434.50" stroke="#000" stroke-width="1.05"/>
<line x1="156.03" y1="426.5" x2="156.03" y2="434.50" stroke="#000" stroke-width="1.05"/>
<line x1="182.27" y1="426.5" x2="182.27" y2="434.50" stroke="#000" stroke-width="1.05"/>
<line x1="208.50" y1="426.5" x2="208.50" y2="434.50" stroke="#000" stroke-width="1.05"/>
<text x="51.10" y="446.50" text-anchor="middle" font-size="13.2">−1.0</text>
<text x="103.57" y="446.50" text-anchor="middle" font-size="13.2">0.0</text>
<text x="156.03" y="446.50" text-anchor="middle" font-size="13.2">1.0</text>
<text x="208.50" y="446.50" text-anchor="middle" font-size="13.2">2.0</text>
<line x1="36.80" y1="420.40" x2="44.8" y2="420.40" stroke="#000" stroke-width="1.05"/>
<text transform="translate(34.20,420.40) rotate(-90)" text-anchor="middle" font-size="13.2">0</text>
<line x1="36.80" y1="390.52" x2="44.8" y2="390.52" stroke="#000" stroke-width="1.05"/>
<text transform="translate(34.20,390.52) rotate(-90)" text-anchor="middle" font-size="13.2">10</text>
<line x1="36.80" y1="360.64" x2="44.8" y2="360.64" stroke="#000" stroke-width="1.05"/>
<text transform="translate(34.20,360.64) rotate(-90)" text-anchor="middle" font-size="13.2">20</text>
<line x1="36.80" y1="330.76" x2="44.8" y2="330.76" stroke="#000" stroke-width="1.05"/>
<text transform="translate(34.20,330.76) rotate(-90)" text-anchor="middle" font-size="13.2">30</text>
<line x1="36.80" y1="300.88" x2="44.8" y2="300.88" stroke="#000" stroke-width="1.05"/>
<text transform="translate(34.20,300.88) rotate(-90)" text-anchor="middle" font-size="13.2">40</text>
<line x1="36.80" y1="271.00" x2="44.8" y2="271.00" stroke="#000" stroke-width="1.05"/>
<text transform="translate(34.20,271.00) rotate(-90)" text-anchor="middle" font-size="13.2">50</text>
<text transform="translate(10.50,341.00) rotate(-90)" text-anchor="middle" font-size="13">−log10(adj_p_value)</text>
<text x="129.80" y="246.0" text-anchor="middle" font-size="16.0" font-weight="bold">Day 1 (Male)</text>
<polygon points="327.0,421.5 329.0,414.0 331.0,406.0 333.0,398.0 334.5,390.0 336.0,388.0 343.0,388.0 345.5,392.0 346.5,400.0 347.5,408.0 348.5,415.0 350.0,421.5" fill="#000"/>
<path d="M333.24 261.60h0.02M336.39 283.10h0.02M340.09 282.75h0.02M340.09 291.00h0.02M341.99 291.60h0.02M343.89 304.40h0.02M336.99 308.10h0.02M340.74 309.75h0.02M336.99 308.60h0.02M340.74 310.25h0.02M349.49 319.50h0.02M332.59 323.25h0.02M340.99 325.25h0.02M339.24 328.60h0.02M331.99 333.00h0.02M335.09 333.60h0.02M338.89 333.60h0.02M341.39 333.00h0.02M345.09 334.00h0.02M338.24 337.40h0.02M340.09 339.25h0.02M341.39 340.75h0.02M333.49 340.50h0.02M334.49 341.75h0.02M336.99 341.10h0.02M349.49 340.75h0.02M334.49 344.90h0.02M335.74 346.75h0.02M338.24 345.50h0.02M340.74 346.10h0.02M341.99 348.00h0.02M341.39 349.25h0.02M332.59 356.10h0.02M333.89 358.00h0.02M335.74 359.25h0.02M338.24 358.00h0.02M340.09 356.75h0.02M331.99 360.50h0.02M334.49 361.75h0.02M336.99 361.10h0.02M340.74 360.50h0.02M340.09 363.00h0.02M330.74 361.25h0.02M336.99 360.60h0.02M340.74 361.90h0.02M331.99 365.00h0.02M334.49 364.40h0.02M335.74 365.60h0.02M336.99 366.25h0.02M333.24 368.75h0.02M336.39 370.00h0.02M338.24 371.90h0.02M337.59 373.75h0.02M331.99 375.00h0.02M333.89 376.25h0.02M335.74 377.50h0.02M335.09 379.40h0.02M346.99 374.75h0.02M331.39 380.00h0.02M341.99 382.50h0.02M343.24 383.75h0.02M346.39 381.90h0.02M348.89 385.00h0.02M350.09 386.90h0.02M327.59 388.75h0.02M351.99 391.90h0.02M355.09 398.75h0.02M351.99 403.10h0.02M356.39 407.50h0.02M322.59 408.10h0.02M355.09 413.75h0.02M353.24 415.00h0.02M327.74 389.00h0.02M322.74 408.40h0.02M328.99 400.25h0.02M351.49 391.50h0.02M354.59 399.00h0.02M352.09 403.40h0.02M357.09 407.10h0.02M355.89 411.50h0.02M355.24 414.60h0.02M354.59 419.60h0.02M350.89 384.60h0.02M343.49 385.59h0.02M340.64 378.50h0.02M335.62 383.85h0.02M333.57 385.85h0.02M332.97 383.21h0.02M335.61 383.10h0.02M342.27 382.40h0.02M336.38 379.55h0.02M339.26 382.91h0.02M336.61 381.13h0.02M338.19 378.84h0.02M333.74 382.25h0.02M331.44 386.50h0.02M326.75 408.09h0.02M331.01 393.89h0.02M326.75 404.51h0.02M329.50 396.32h0.02M325.74 401.51h0.02M327.78 396.19h0.02M330.77 388.04h0.02M326.99 399.43h0.02M325.90 399.39h0.02M322.40 417.80h0.02M326.96 400.59h0.02M332.10 386.37h0.02M330.75 396.22h0.02M325.82 398.45h0.02M325.04 400.60h0.02M320.27 418.97h0.02M322.84 417.64h0.02M321.93 415.06h0.02M322.55 407.02h0.02M327.74 393.93h0.02M321.91 420.60h0.02M323.59 420.91h0.02M325.64 419.82h0.02M325.86 418.41h0.02M322.61 420.36h0.02M325.49 419.65h0.02M322.05 421.12h0.02M322.15 418.95h0.02M323.58 420.86h0.02M343.45 385.54h0.02M353.23 412.54h0.02M348.35 390.59h0.02M347.61 393.79h0.02M346.68 391.50h0.02M345.98 385.98h0.02M350.63 405.10h0.02M347.17 393.58h0.02M351.27 403.03h0.02M352.66 415.16h0.02M346.81 392.20h0.02M352.72 410.80h0.02M348.06 387.67h0.02M351.97 407.63h0.02M347.01 393.55h0.02M349.45 410.88h0.02M348.14 389.55h0.02M351.49 415.09h0.02M350.35 395.10h0.02M347.81 397.58h0.02M351.96 416.81h0.02M353.96 418.32h0.02M354.29 420.85h0.02M350.79 413.11h0.02M350.41 404.83h0.02M350.14 398.16h0.02M351.70 419.88h0.02M347.62 414.83h0.02M344.29 400.19h0.02M342.29 413.59h0.02M329.97 413.72h0.02M340.07 398.85h0.02M335.00 418.52h0.02M336.95 388.91h0.02M347.65 418.57h0.02M332.70 397.81h0.02M341.81 417.25h0.02M341.13 417.64h0.02M332.24 402.05h0.02M342.60 412.09h0.02M333.47 397.90h0.02M347.39 409.35h0.02M337.96 394.19h0.02M328.73 407.77h0.02M338.74 416.01h0.02M338.94 397.44h0.02M332.44 415.31h0.02M335.35 390.33h0.02M333.93 390.79h0.02M340.52 416.64h0.02M333.74 413.20h0.02M326.39 413.60h0.02M330.27 405.88h0.02M347.95 405.59h0.02M334.17 405.01h0.02M341.74 406.68h0.02M338.29 389.95h0.02M348.37 413.79h0.02M339.92 391.40h0.02M346.53 402.89h0.02M339.49 418.47h0.02M331.52 397.37h0.02M339.84 388.71h0.02M345.92 408.25h0.02M331.57 398.48h0.02M340.20 400.64h0.02M348.29 410.50h0.02M343.91 421.22h0.02M336.66 404.45h0.02M334.51 409.57h0.02M347.53 412.94h0.02M328.93 414.56h0.02M339.04 390.19h0.02M343.58 409.20h0.02M345.31 402.51h0.02M347.20 412.17h0.02M338.37 408.99h0.02M329.65 406.71h0.02M340.13 418.79h0.02M336.07 391.03h0.02M341.19 392.11h0.02M341.41 411.96h0.02M335.31 409.20h0.02M342.81 419.79h0.02M340.01 418.99h0.02M332.38 395.26h0.02M333.98 407.15h0.02M323.96 418.68h0.02M341.74 389.70h0.02M334.45 412.44h0.02M333.39 409.02h0.02M335.57 390.44h0.02M343.00 402.46h0.02M338.11 396.28h0.02M340.67 406.91h0.02M349.45 413.01h0.02M333.54 392.01h0.02M347.24 388.75h0.02M345.67 402.14h0.02M344.08 401.85h0.02M349.27 413.13h0.02M341.52 400.01h0.02M344.30 390.48h0.02M335.91 398.12h0.02M334.57 414.70h0.02M338.90 395.85h0.02M334.68 410.71h0.02M335.78 401.80h0.02M331.12 417.88h0.02M324.99 419.82h0.02M331.33 410.65h0.02M344.32 418.44h0.02M335.38 402.79h0.02M346.78 405.07h0.02M340.08 413.20h0.02M346.03 407.66h0.02M345.28 420.78h0.02M336.59 397.52h0.02M333.91 412.17h0.02M327.83 416.02h0.02M343.85 396.67h0.02M344.70 392.38h0.02M343.40 404.88h0.02M350.64 419.06h0.02M325.82 415.63h0.02M334.44 405.38h0.02M330.93 416.64h0.02M330.69 418.86h0.02M335.79 421.30h0.02M331.33 397.95h0.02M344.89 414.33h0.02M343.24 394.55h0.02M337.87 411.80h0.02M344.24 420.20h0.02M344.95 409.46h0.02M343.29 409.06h0.02M346.96 400.97h0.02M341.84 404.73h0.02M331.57 404.32h0.02M344.69 408.31h0.02M344.70 408.98h0.02M340.75 411.32h0.02M344.33 397.64h0.02M332.29 404.29h0.02M333.69 420.59h0.02M348.76 406.76h0.02M333.00 396.85h0.02M332.21 405.56h0.02M327.99 409.86h0.02M336.50 411.96h0.02M332.90 413.76h0.02M345.85 411.84h0.02M336.42 389.18h0.02M334.41 420.68h0.02M328.47 410.44h0.02M344.49 400.05h0.02M345.79 390.14h0.02M338.18 395.58h0.02M325.09 417.55h0.02M337.41 388.47h0.02M336.70 405.21h0.02M341.16 412.48h0.02M333.95 401.88h0.02M331.32 413.68h0.02M340.51 416.55h0.02M335.56 386.95h0.02M329.76 417.41h0.02M337.46 406.31h0.02M335.57 407.36h0.02M339.70 397.91h0.02M345.93 398.01h0.02M339.74 388.60h0.02M344.61 398.30h0.02M345.95 416.40h0.02M329.75 411.00h0.02M330.41 403.32h0.02M342.89 420.34h0.02M334.45 387.09h0.02M348.22 408.40h0.02M333.37 407.34h0.02M337.15 402.28h0.02M339.46 405.25h0.02M335.54 407.84h0.02M342.27 403.74h0.02M335.69 399.73h0.02M344.90 397.43h0.02M331.71 401.80h0.02M349.14 410.81h0.02M339.87 414.95h0.02M339.61 412.57h0.02M334.34 403.52h0.02M348.65 401.33h0.02M349.50 413.63h0.02M344.20 391.72h0.02M335.93 408.15h0.02M338.52 414.38h0.02M349.01 409.78h0.02M340.29 394.87h0.02M335.21 395.26h0.02M338.74 403.32h0.02M339.73 385.55h0.02M341.85 418.17h0.02M344.44 387.44h0.02M341.70 396.77h0.02M340.55 402.40h0.02M337.70 409.00h0.02M341.22 411.78h0.02M338.43 387.86h0.02M347.38 419.81h0.02M342.74 414.89h0.02M346.15 396.11h0.02M346.03 403.35h0.02M346.50 407.58h0.02M347.54 417.05h0.02M337.11 388.46h0.02M345.77 409.30h0.02M332.84 407.30h0.02M337.35 389.38h0.02M337.70 415.19h0.02M339.06 403.21h0.02M329.33 404.98h0.02M328.84 406.86h0.02M334.49 394.76h0.02M350.46 413.80h0.02M337.24 407.86h0.02M343.58 400.19h0.02M328.19 419.34h0.02M344.81 416.54h0.02M340.78 406.28h0.02M328.94 416.12h0.02M340.58 403.03h0.02M344.93 391.85h0.02M345.19 404.43h0.02M337.00 415.58h0.02M346.82 403.89h0.02M334.88 418.15h0.02M334.68 397.62h0.02M339.78 408.37h0.02M347.81 391.57h0.02M334.68 411.98h0.02M325.36 416.61h0.02M331.01 412.99h0.02M331.35 420.85h0.02M333.45 412.71h0.02M340.04 395.31h0.02M339.14 414.75h0.02M338.32 391.48h0.02M343.33 392.66h0.02M342.06 420.76h0.02M345.70 401.01h0.02M340.58 419.91h0.02M339.19 413.19h0.02M336.42 390.54h0.02M347.84 405.41h0.02M334.45 398.04h0.02M334.38 403.27h0.02M329.38 420.09h0.02M348.13 417.10h0.02M335.94 397.56h0.02M335.40 406.25h0.02M327.10 420.45h0.02M330.99 417.79h0.02M334.56 420.37h0.02M333.85 405.22h0.02M331.81 412.65h0.02M338.31 390.53h0.02M346.57 405.64h0.02M346.22 397.70h0.02M345.53 403.83h0.02M346.41 393.42h0.02M343.72 421.45h0.02M333.38 404.79h0.02M343.19 401.06h0.02M339.95 409.96h0.02M344.84 419.44h0.02M332.56 415.05h0.02M336.28 405.50h0.02M348.68 413.31h0.02M337.33 410.84h0.02M348.54 403.07h0.02M340.46 410.03h0.02M339.05 396.26h0.02M338.19 407.60h0.02M338.03 411.46h0.02M348.60 405.20h0.02M331.82 403.89h0.02M347.25 419.06h0.02M340.25 416.08h0.02M336.13 403.24h0.02M338.35 403.85h0.02M329.93 407.66h0.02M325.45 416.04h0.02M337.89 391.77h0.02M337.25 387.06h0.02M333.54 395.26h0.02M342.10 404.27h0.02M341.10 393.16h0.02M337.78 404.75h0.02M335.49 413.49h0.02M347.92 404.70h0.02M329.45 419.97h0.02M341.61 409.60h0.02M340.95 397.91h0.02M330.97 420.85h0.02M349.28 411.19h0.02M346.99 403.13h0.02M341.33 394.72h0.02M334.31 400.72h0.02M348.30 399.43h0.02M344.94 412.55h0.02M350.30 420.55h0.02M343.36 396.91h0.02M339.38 407.06h0.02M339.73 410.48h0.02M344.87 404.64h0.02M338.46 420.58h0.02M334.07 408.08h0.02M335.69 388.38h0.02M340.12 404.52h0.02M329.31 406.88h0.02M331.39 402.50h0.02M347.38 415.94h0.02M337.28 403.70h0.02M346.46 405.24h0.02M339.01 396.79h0.02M338.65 413.97h0.02M342.14 407.50h0.02M350.26 416.46h0.02M350.12 411.25h0.02M336.12 420.93h0.02M342.09 397.66h0.02M336.54 391.71h0.02M344.91 399.63h0.02M342.65 399.97h0.02" stroke="#000" stroke-width="2.4" stroke-linecap="round" fill="none"/>
<rect x="278.0" y="255.5" width="170.5" height="171.0" fill="none" stroke="#000" stroke-width="1.05"/>
<line x1="284.31" y1="426.5" x2="284.31" y2="434.50" stroke="#000" stroke-width="1.05"/>
<line x1="310.63" y1="426.5" x2="310.63" y2="434.50" stroke="#000" stroke-width="1.05"/>
<line x1="336.94" y1="426.5" x2="336.94" y2="434.50" stroke="#000" stroke-width="1.05"/>
<line x1="363.25" y1="426.5" x2="363.25" y2="434.50" stroke="#000" stroke-width="1.05"/>
<line x1="389.56" y1="426.5" x2="389.56" y2="434.50" stroke="#000" stroke-width="1.05"/>
<line x1="415.87" y1="426.5" x2="415.87" y2="434.50" stroke="#000" stroke-width="1.05"/>
<line x1="442.19" y1="426.5" x2="442.19" y2="434.50" stroke="#000" stroke-width="1.05"/>
<text x="284.31" y="446.50" text-anchor="middle" font-size="13.2">−1.0</text>
<text x="336.94" y="446.50" text-anchor="middle" font-size="13.2">0.0</text>
<text x="389.56" y="446.50" text-anchor="middle" font-size="13.2">1.0</text>
<text x="442.19" y="446.50" text-anchor="middle" font-size="13.2">2.0</text>
<line x1="270.00" y1="420.40" x2="278.0" y2="420.40" stroke="#000" stroke-width="1.05"/>
<text transform="translate(267.40,420.40) rotate(-90)" text-anchor="middle" font-size="13.2">0</text>
<line x1="270.00" y1="390.52" x2="278.0" y2="390.52" stroke="#000" stroke-width="1.05"/>
<text transform="translate(267.40,390.52) rotate(-90)" text-anchor="middle" font-size="13.2">10</text>
<line x1="270.00" y1="360.64" x2="278.0" y2="360.64" stroke="#000" stroke-width="1.05"/>
<text transform="translate(267.40,360.64) rotate(-90)" text-anchor="middle" font-size="13.2">20</text>
<line x1="270.00" y1="330.76" x2="278.0" y2="330.76" stroke="#000" stroke-width="1.05"/>
<text transform="translate(267.40,330.76) rotate(-90)" text-anchor="middle" font-size="13.2">30</text>
<line x1="270.00" y1="300.88" x2="278.0" y2="300.88" stroke="#000" stroke-width="1.05"/>
<text transform="translate(267.40,300.88) rotate(-90)" text-anchor="middle" font-size="13.2">40</text>
<line x1="270.00" y1="271.00" x2="278.0" y2="271.00" stroke="#000" stroke-width="1.05"/>
<text transform="translate(267.40,271.00) rotate(-90)" text-anchor="middle" font-size="13.2">50</text>
<text transform="translate(243.70,341.00) rotate(-90)" text-anchor="middle" font-size="13">−log10(adj_p_value)</text>
<text x="363.25" y="246.0" text-anchor="middle" font-size="16.0" font-weight="bold">Day 3 (Male)</text>
<polygon points="558.0,421.5 559.5,414.0 561.5,407.0 564.0,403.0 570.0,402.0 577.0,403.0 581.0,407.0 582.5,414.0 584.0,421.5" fill="#000"/>
<path d="M559.74 261.60h0.02M567.24 282.75h0.02M569.59 291.00h0.02M576.24 291.60h0.02M571.49 304.40h0.02M564.99 308.10h0.02M569.39 309.75h0.02M565.59 308.60h0.02M569.39 310.25h0.02M569.39 319.25h0.02M563.09 323.00h0.02M569.39 324.25h0.02M570.59 325.50h0.02M566.24 328.60h0.02M565.59 330.50h0.02M563.09 332.75h0.02M566.89 333.60h0.02M573.09 333.60h0.02M566.89 337.40h0.02M568.09 339.25h0.02M567.49 341.10h0.02M565.59 341.75h0.02M562.49 340.50h0.02M564.39 341.10h0.02M564.39 344.25h0.02M566.24 345.50h0.02M567.49 342.40h0.02M568.74 343.60h0.02M569.99 342.40h0.02M571.89 346.75h0.02M573.09 345.50h0.02M569.39 348.00h0.02M570.59 349.25h0.02M562.49 357.40h0.02M564.99 359.25h0.02M563.74 361.75h0.02M566.89 360.50h0.02M568.09 361.75h0.02M569.99 363.00h0.02M573.09 360.50h0.02M574.39 361.75h0.02M572.49 363.00h0.02M562.99 357.00h0.02M565.59 359.60h0.02M567.99 358.60h0.02M570.59 360.10h0.02M563.59 362.50h0.02M565.59 364.40h0.02M567.49 365.60h0.02M566.19 368.10h0.02M569.99 369.40h0.02M571.19 371.90h0.02M568.09 373.10h0.02M566.89 375.60h0.02M563.69 376.90h0.02M564.99 379.40h0.02M569.39 378.10h0.02M556.89 374.75h0.02M560.59 368.50h0.02M556.24 401.00h0.02M561.89 389.10h0.02M576.24 382.25h0.02M577.49 383.50h0.02M573.09 385.40h0.02M576.89 386.00h0.02M584.99 388.50h0.02M587.49 388.75h0.02M589.39 389.10h0.02M586.89 387.25h0.02M591.24 400.40h0.02M593.74 407.90h0.02M556.74 400.90h0.02M596.74 391.75h0.02M591.74 400.25h0.02M593.59 407.75h0.02M587.99 402.75h0.02M589.24 404.00h0.02M587.99 414.00h0.02M591.09 414.60h0.02M585.49 388.40h0.02M587.99 389.00h0.02M570.33 381.33h0.02M569.50 393.98h0.02M564.96 390.13h0.02M565.17 377.44h0.02M565.30 389.78h0.02M563.39 387.84h0.02M565.33 377.55h0.02M566.08 382.12h0.02M566.36 392.50h0.02M570.73 378.77h0.02M566.98 379.27h0.02M567.93 376.45h0.02M569.81 390.07h0.02M565.72 385.18h0.02M566.78 389.97h0.02M567.94 391.35h0.02M566.89 386.39h0.02M570.84 388.67h0.02M563.17 382.80h0.02M564.75 379.52h0.02M566.56 390.44h0.02M583.00 397.51h0.02M580.84 389.77h0.02M578.75 395.77h0.02M579.85 384.12h0.02M579.51 388.33h0.02M576.20 384.24h0.02M581.93 396.79h0.02M577.37 385.51h0.02M582.98 388.10h0.02M571.79 388.46h0.02M580.49 397.95h0.02M573.16 392.26h0.02M574.04 395.93h0.02M577.30 393.25h0.02M582.56 391.02h0.02M572.48 393.39h0.02M581.40 391.67h0.02M570.73 394.20h0.02M582.73 395.84h0.02M581.25 392.94h0.02M575.23 388.43h0.02M572.84 392.65h0.02M575.08 395.14h0.02M573.47 386.95h0.02M581.66 395.38h0.02M580.27 391.44h0.02M580.22 387.70h0.02M582.45 389.64h0.02M577.05 390.15h0.02M577.12 383.39h0.02M582.29 387.53h0.02M576.74 385.64h0.02M578.51 384.06h0.02M583.17 393.24h0.02M580.82 384.38h0.02M576.76 394.04h0.02M558.29 404.34h0.02M555.96 407.30h0.02M557.20 406.10h0.02M554.45 416.38h0.02M557.35 407.53h0.02M555.79 406.49h0.02M556.48 410.67h0.02M566.26 408.96h0.02M556.80 421.17h0.02M567.53 394.95h0.02M561.43 401.00h0.02M561.55 407.63h0.02M562.85 412.65h0.02M573.52 414.31h0.02M559.37 418.67h0.02M570.29 392.85h0.02M561.07 420.09h0.02M561.27 414.24h0.02M582.49 404.90h0.02M569.66 397.45h0.02M565.97 407.29h0.02M573.75 407.26h0.02M567.10 418.03h0.02M570.17 402.59h0.02M570.73 416.69h0.02M574.82 413.65h0.02M581.92 401.84h0.02M578.59 393.93h0.02M570.98 405.08h0.02M567.97 396.07h0.02M581.17 401.45h0.02M568.09 394.59h0.02M583.18 417.43h0.02M561.31 402.85h0.02M564.59 396.76h0.02M582.07 409.76h0.02M584.59 412.01h0.02M566.13 414.86h0.02M558.90 408.96h0.02M571.97 393.39h0.02M564.69 406.87h0.02M575.18 420.76h0.02M574.27 421.41h0.02M571.03 394.14h0.02M560.77 404.89h0.02M583.45 415.79h0.02M579.65 407.78h0.02M560.78 407.49h0.02M564.39 415.78h0.02M581.69 397.76h0.02M586.12 419.16h0.02M569.38 417.96h0.02M561.60 421.48h0.02M573.75 409.69h0.02M572.81 410.18h0.02M578.01 414.67h0.02M577.27 393.72h0.02M582.60 407.19h0.02M582.40 417.97h0.02M577.45 411.80h0.02M571.27 414.46h0.02M575.23 413.72h0.02M567.23 412.38h0.02M568.07 418.46h0.02M582.60 403.66h0.02M564.04 415.48h0.02M561.90 402.23h0.02M569.85 406.37h0.02M580.10 409.83h0.02M562.80 403.09h0.02M563.28 395.12h0.02M560.67 420.22h0.02M581.03 416.87h0.02M578.51 399.09h0.02M579.29 407.44h0.02M580.72 408.68h0.02M575.98 394.86h0.02M583.12 412.51h0.02M573.64 398.88h0.02M576.72 403.61h0.02M562.58 414.40h0.02M577.87 415.55h0.02M574.64 393.40h0.02M576.61 416.07h0.02M568.91 391.63h0.02M578.30 402.93h0.02M561.50 413.91h0.02M568.56 406.44h0.02M574.69 404.81h0.02M577.18 399.83h0.02M562.82 405.19h0.02M581.34 400.96h0.02M561.54 398.96h0.02M566.73 395.35h0.02M570.51 408.63h0.02M563.97 395.83h0.02M567.52 417.13h0.02M560.68 406.64h0.02M569.13 416.68h0.02M573.30 421.49h0.02M582.99 418.99h0.02M558.98 420.67h0.02M575.13 409.02h0.02M560.92 404.11h0.02M568.61 405.02h0.02M567.00 395.03h0.02M576.38 401.16h0.02M583.02 421.02h0.02M579.14 400.01h0.02M573.97 399.95h0.02M576.12 398.83h0.02M568.59 412.31h0.02M568.22 414.96h0.02M561.07 421.24h0.02M572.00 418.15h0.02M561.01 403.48h0.02M571.56 419.79h0.02M568.15 401.60h0.02M581.92 403.94h0.02M561.55 400.45h0.02M559.52 410.36h0.02M563.84 409.62h0.02M569.94 410.00h0.02M558.35 413.45h0.02M561.72 403.92h0.02M585.85 421.07h0.02M572.91 405.15h0.02M572.35 410.87h0.02M566.42 406.26h0.02M571.21 394.78h0.02M566.61 418.09h0.02M573.53 412.12h0.02M574.65 399.60h0.02M559.32 407.98h0.02M560.91 408.62h0.02M582.65 409.18h0.02M567.40 396.93h0.02M560.67 399.35h0.02M586.22 419.39h0.02M575.61 410.33h0.02M565.29 411.65h0.02M568.73 401.17h0.02M565.66 407.55h0.02M566.16 405.74h0.02M560.52 418.38h0.02M580.17 411.53h0.02M569.45 415.23h0.02M583.77 406.57h0.02M569.30 396.07h0.02M571.41 394.17h0.02M560.06 409.09h0.02M567.38 417.17h0.02M562.01 398.70h0.02M579.27 407.70h0.02M563.55 419.53h0.02M576.96 410.99h0.02M564.54 415.90h0.02M580.42 410.52h0.02M568.67 414.75h0.02M567.33 394.47h0.02M567.30 401.13h0.02M575.30 395.34h0.02M580.18 395.29h0.02M572.43 401.62h0.02M563.48 398.74h0.02M565.34 410.14h0.02M565.69 420.78h0.02M580.17 396.58h0.02M569.58 398.78h0.02M568.21 403.20h0.02M570.23 406.17h0.02M582.44 405.68h0.02M574.93 416.96h0.02M567.83 405.35h0.02M571.53 392.91h0.02M569.27 418.35h0.02M568.67 397.48h0.02M583.15 415.73h0.02M574.82 410.92h0.02M564.01 409.17h0.02M567.57 399.98h0.02M562.98 408.95h0.02M571.21 402.83h0.02M573.13 397.22h0.02M566.34 417.37h0.02M569.57 393.33h0.02M577.07 413.30h0.02M578.63 411.04h0.02M556.70 417.43h0.02M575.83 394.32h0.02M577.69 393.40h0.02M582.19 408.83h0.02M573.95 400.77h0.02M580.08 402.68h0.02M566.81 409.64h0.02M569.86 409.16h0.02M572.94 393.61h0.02M570.63 418.44h0.02M559.25 419.46h0.02M573.67 420.20h0.02M560.76 403.51h0.02M562.87 406.64h0.02M581.41 400.24h0.02M574.09 418.89h0.02M575.96 405.04h0.02M561.71 419.02h0.02M564.72 418.91h0.02M566.38 400.45h0.02M574.51 416.65h0.02M558.70 408.47h0.02M558.55 414.09h0.02M560.54 409.39h0.02M568.71 406.85h0.02M581.53 399.89h0.02M575.73 399.21h0.02M564.31 397.77h0.02M571.68 393.74h0.02M577.80 413.16h0.02M578.79 395.56h0.02M577.17 412.68h0.02M579.94 395.62h0.02M573.47 400.95h0.02M585.33 418.35h0.02M562.84 398.68h0.02M564.83 415.44h0.02M576.99 420.85h0.02M561.94 406.87h0.02M571.43 406.99h0.02M583.35 406.86h0.02M565.45 399.27h0.02M561.88 399.31h0.02M570.09 394.24h0.02M569.04 415.82h0.02M559.27 421.22h0.02M559.74 418.53h0.02M568.47 403.07h0.02M564.79 392.76h0.02M564.80 417.16h0.02M569.79 413.92h0.02M568.24 394.56h0.02M565.60 393.64h0.02M572.37 405.79h0.02M569.08 421.25h0.02M573.28 420.04h0.02M565.30 403.87h0.02M561.02 418.64h0.02M573.16 403.42h0.02M567.11 411.46h0.02M568.08 406.33h0.02M560.04 410.80h0.02M561.11 409.30h0.02M573.32 410.88h0.02M563.86 419.88h0.02M568.77 394.65h0.02M577.18 420.92h0.02M566.54 413.64h0.02M570.83 411.55h0.02M580.66 405.39h0.02M567.72 392.15h0.02M558.48 415.07h0.02M582.02 406.45h0.02M570.98 410.25h0.02M562.46 401.47h0.02M563.06 399.28h0.02M583.15 406.46h0.02M571.33 397.60h0.02M583.17 419.81h0.02M562.76 397.15h0.02M581.91 400.34h0.02M559.40 409.91h0.02M578.47 394.01h0.02M574.96 406.33h0.02M576.20 412.09h0.02M564.91 416.20h0.02M577.92 416.59h0.02M577.28 400.52h0.02M578.63 415.02h0.02M574.42 413.28h0.02M571.37 401.55h0.02M564.72 408.05h0.02M578.16 410.98h0.02M578.14 417.80h0.02M579.92 420.42h0.02M560.59 403.51h0.02M557.01 419.62h0.02M581.36 398.33h0.02M569.06 417.94h0.02M581.74 414.51h0.02M569.71 412.59h0.02M561.37 413.97h0.02M575.92 399.61h0.02M560.48 404.09h0.02M578.05 408.79h0.02M574.10 406.55h0.02M562.17 419.29h0.02M567.27 392.90h0.02M578.18 399.35h0.02M572.21 405.31h0.02M583.80 410.47h0.02M559.08 415.78h0.02M578.65 420.86h0.02M559.61 417.47h0.02M566.80 393.13h0.02M573.56 392.45h0.02M578.10 402.56h0.02M567.17 419.39h0.02M577.86 399.13h0.02M573.75 401.38h0.02M570.45 392.18h0.02M566.16 406.85h0.02M567.97 420.12h0.02M557.98 412.36h0.02M574.37 397.96h0.02M563.50 417.22h0.02" stroke="#000" stroke-width="2.4" stroke-linecap="round" fill="none"/>
<rect x="511.5" y="255.5" width="170.0" height="171.0" fill="none" stroke="#000" stroke-width="1.05"/>
<line x1="517.80" y1="426.5" x2="517.80" y2="434.50" stroke="#000" stroke-width="1.05"/>
<line x1="544.03" y1="426.5" x2="544.03" y2="434.50" stroke="#000" stroke-width="1.05"/>
<line x1="570.27" y1="426.5" x2="570.27" y2="434.50" stroke="#000" stroke-width="1.05"/>
<line x1="596.50" y1="426.5" x2="596.50" y2="434.50" stroke="#000" stroke-width="1.05"/>
<line x1="622.73" y1="426.5" x2="622.73" y2="434.50" stroke="#000" stroke-width="1.05"/>
<line x1="648.97" y1="426.5" x2="648.97" y2="434.50" stroke="#000" stroke-width="1.05"/>
<line x1="675.20" y1="426.5" x2="675.20" y2="434.50" stroke="#000" stroke-width="1.05"/>
<text x="517.80" y="446.50" text-anchor="middle" font-size="13.2">−1.0</text>
<text x="570.27" y="446.50" text-anchor="middle" font-size="13.2">0.0</text>
<text x="622.73" y="446.50" text-anchor="middle" font-size="13.2">1.0</text>
<text x="675.20" y="446.50" text-anchor="middle" font-size="13.2">2.0</text>
<line x1="503.50" y1="420.40" x2="511.5" y2="420.40" stroke="#000" stroke-width="1.05"/>
<text transform="translate(500.90,420.40) rotate(-90)" text-anchor="middle" font-size="13.2">0</text>
<line x1="503.50" y1="390.52" x2="511.5" y2="390.52" stroke="#000" stroke-width="1.05"/>
<text transform="translate(500.90,390.52) rotate(-90)" text-anchor="middle" font-size="13.2">10</text>
<line x1="503.50" y1="360.64" x2="511.5" y2="360.64" stroke="#000" stroke-width="1.05"/>
<text transform="translate(500.90,360.64) rotate(-90)" text-anchor="middle" font-size="13.2">20</text>
<line x1="503.50" y1="330.76" x2="511.5" y2="330.76" stroke="#000" stroke-width="1.05"/>
<text transform="translate(500.90,330.76) rotate(-90)" text-anchor="middle" font-size="13.2">30</text>
<line x1="503.50" y1="300.88" x2="511.5" y2="300.88" stroke="#000" stroke-width="1.05"/>
<text transform="translate(500.90,300.88) rotate(-90)" text-anchor="middle" font-size="13.2">40</text>
<line x1="503.50" y1="271.00" x2="511.5" y2="271.00" stroke="#000" stroke-width="1.05"/>
<text transform="translate(500.90,271.00) rotate(-90)" text-anchor="middle" font-size="13.2">50</text>
<text transform="translate(477.20,341.00) rotate(-90)" text-anchor="middle" font-size="13">−log10(adj_p_value)</text>
<text x="596.50" y="246.0" text-anchor="middle" font-size="16.0" font-weight="bold">Day 14 (Male)</text>
</svg></body></html>
